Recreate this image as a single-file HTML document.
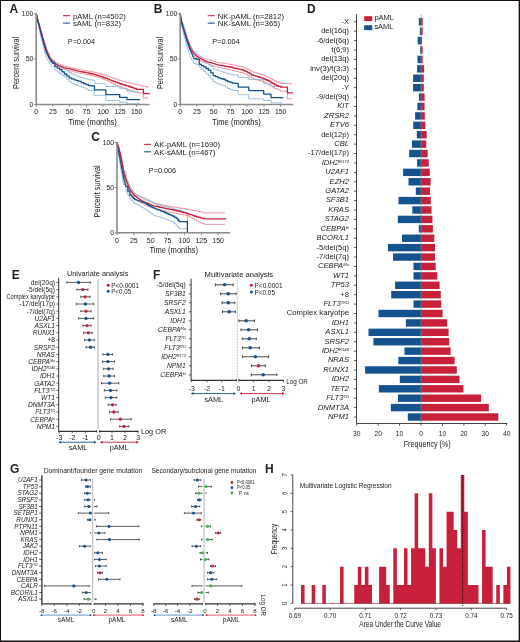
<!DOCTYPE html>
<html><head><meta charset="utf-8"><style>
html,body{margin:0;padding:0;background:#fff;}
svg{display:block;will-change:transform;}
text{font-family:"Liberation Sans",sans-serif;fill:#222;}
</style></head><body>
<svg width="520" height="642" viewBox="0 0 520 642">
<rect x="0" y="0" width="520" height="642" fill="#fff"/>
<text x="9.5" y="12.8" font-size="12" font-weight="bold" fill="#000">A</text>
<path d="M36.2,13.7L37.54,18.24L40.35,27.77L43.23,37.76L44.74,42.85L46.25,47.93L48.13,52.24L50,56.56L52.41,59.19L54.83,61.82L57.24,63L59.65,64.18L61.76,65L63.87,65.82L65.66,66.21L67.44,66.61L69.23,67L71.15,67.47L73.06,67.94L74.98,68.42L76.9,68.89L78.81,69.36L80.74,69.74L82.67,70.12H84.6V70.5H86.53V70.89H88.46V71.27H90.38V71.65H92.29V72.03H94.21V72.41H96.12V72.79H98.04V73.17H99.98V73.81H101.93V74.45H103.87V75.08H105.8V75.75H107.72V76.42H109.65V77.09H111.58V77.76H113.5V78.43H115.43V79.1H117.35V79.77H119.28V80.44H121.22V80.92H123.15V81.41H125.09V81.89H127.02V82.38H128.96V82.86H130.89V83.34H132.83V83.83H134.76V84.31H136.7V84.8H138.93V85.31H141.17V85.83H143.4V86.34H145.75V86.88H148.09V87.43" stroke="#e57d8c" stroke-width="0.8" fill="none" stroke-linejoin="round"/>
<path d="M36.2,13.7L37.54,19.6L40.35,30.5L43.23,41.39L44.74,46.62L46.25,51.84L48.13,56.01L50,60.19L52.41,62.73L54.83,65.27L57.24,66.45L59.65,67.64L61.76,68.45L63.87,69.27L65.66,69.66L67.44,70.06L69.23,70.45L71.15,70.96L73.06,71.47L74.98,71.98L76.9,72.48L78.81,72.99L80.74,73.41L82.67,73.83H84.6V74.25H86.53V74.66H88.46V75.08H90.38V75.52H92.29V75.95H94.21V76.39H96.12V76.82H98.04V77.26H99.98V78.02H101.93V78.77H103.87V79.53H105.8V80.44H107.72V81.35H109.65V82.25H111.58V83.16H113.5V84.07H115.43V84.98H117.35V85.89H119.28V86.79H121.22V87.48H123.15V88.17H125.09V88.85H127.02V89.54H128.96V90.22H130.89V90.91H132.83V91.6H134.76V92.28H136.7V92.97H138.93V93.03H141.17V93.09H143.4V93.15V98.14H145.75H148.09" stroke="#e57d8c" stroke-width="0.8" fill="none" stroke-linejoin="round"/>
<path d="M36.2,13.7L37.54,18.24L40.35,28.23L43.23,38.22L44.74,43.21L46.25,48.2L48.13,52.47L50,56.74L52.41,60.14H54.83V63.55H57.24V65.18H59.65V66.82H62V68H64.34V69.18H66.79V70.9H69.23V72.63H71.61V73.81H73.99V74.99H76.4V75.94H78.81V76.9H81.26V77.67H83.7V78.44H86.08V79.12H88.46V79.8H90.58V80.01H92.7V80.23H94.83V80.44V83.71H96.67H98.51H100.35H102.2H104.04H105.88V86.52H107.85H109.82H111.8H113.77H115.74H117.71H119.68V88.34H121.51H123.33H125.16H126.98V91.24H128.94H130.89H132.85H134.8H136.76H138.71" stroke="#86aed4" stroke-width="0.8" fill="none" stroke-linejoin="round"/>
<path d="M36.2,13.7L37.54,20.51L40.35,34.58L43.23,46.39L44.74,51.84L46.25,57.28L48.13,60.42L50,63.55L52.41,66.86H54.83V70.18H57.24V72.08H59.65V73.99H62V75.44H64.34V76.9H66.79V79.3H69.23V81.71H71.61V83.16H73.99V84.61H76.4V85.34H78.81V86.07H81.26V87.02H83.7V87.97H86.08V89.2H88.46V90.43H90.38V90.52H92.3V90.61H94.22V90.7V95.24H96.17H98.11H100.05H101.99H103.94H105.88V100.5H107.85H109.82H111.8H113.77H115.74H117.71H119.68V102.23H121.51H123.33H125.16H126.98V103.59H129.16H131.34H133.52H135.69H137.87H140.05" stroke="#86aed4" stroke-width="0.8" fill="none" stroke-linejoin="round"/>
<path d="M36.2,13.7L37.41,18.88L40.35,29.14L43.23,39.58L44.74,44.71L46.25,49.84L48.13,54.11L50,58.37L52.41,60.96L54.83,63.55L57.24,64.73L59.65,65.91L61.76,66.73L63.87,67.54L65.66,67.94L67.44,68.33L69.23,68.72L71.15,69.22L73.06,69.71L74.98,70.2L76.9,70.69L78.81,71.18L80.74,71.59L82.67,72.01H84.6V72.43H86.53V72.85H88.46V73.26H90.47V73.74H92.48V74.22H94.49V74.69H96.5V75.17H98.34V75.78H100.19V76.4H102.03V77.01H103.87V77.62H105.71V78.35H107.56V79.08H109.4V79.8H111.24V80.53H113.25V81.32H115.26V82.12H117.27V82.91H119.28V83.71H121.16V84.27H123.03V84.83H124.91V85.4H126.78V85.96H128.66V86.52H130.67V87.25H132.68V87.97H134.69V88.7H136.7V89.43H138.93H141.17H143.4V93.6H145.52H147.64H149.76" stroke="#c8203a" stroke-width="1.3" fill="none" stroke-linejoin="round"/>
<path d="M36.2,13.7L37.41,19.15L40.35,30.68L43.23,41.85L44.74,46.98L46.25,52.11L48.13,55.88L50,59.64L52.41,63H54.83V66.36H57.24V68.04H59.65V69.72H62V71.86H64.34V73.99H66.79V75.94H69.23V77.9H71.61V78.85H73.99V79.8H76.4V80.57H78.81V81.35H81.26V82.53H83.7V83.71H86.08V84.66H88.46V85.61H90.47V85.76H92.48V85.92H94.49V86.07V89.97H96.39H98.29H100.19H102.08H103.98H105.88V94.69H107.85H109.82H111.8H113.77H115.74H117.71H119.68V97.42H121.51H123.33H125.16H126.98V99.69H129.14H131.3H133.45H135.61H137.76H139.92" stroke="#15538f" stroke-width="1.3" fill="none" stroke-linejoin="round"/>
<line x1="36.2" y1="13.4" x2="36.2" y2="105.3" stroke="#8a8a8a" stroke-width="1.6"/>
<line x1="35.4" y1="104.5" x2="149.5" y2="104.5" stroke="#8a8a8a" stroke-width="1.6"/>
<line x1="34" y1="13.7" x2="36.2" y2="13.7" stroke="#8a8a8a" stroke-width="1"/>
<text x="33.2" y="16" font-size="7.3" text-anchor="end" textLength="11.33" lengthAdjust="spacingAndGlyphs">100</text>
<line x1="34" y1="59.1" x2="36.2" y2="59.1" stroke="#8a8a8a" stroke-width="1"/>
<text x="33.2" y="61.4" font-size="7.3" text-anchor="end" textLength="7.55" lengthAdjust="spacingAndGlyphs">50</text>
<line x1="34" y1="104.5" x2="36.2" y2="104.5" stroke="#8a8a8a" stroke-width="1"/>
<text x="33.2" y="106.8" font-size="7.3" text-anchor="end" textLength="3.78" lengthAdjust="spacingAndGlyphs">0</text>
<line x1="36.2" y1="104.5" x2="36.2" y2="106.7" stroke="#8a8a8a" stroke-width="1"/>
<text x="36.2" y="114.2" font-size="7.3" text-anchor="middle" textLength="3.86" lengthAdjust="spacingAndGlyphs">0</text>
<line x1="52.95" y1="104.5" x2="52.95" y2="106.7" stroke="#8a8a8a" stroke-width="1"/>
<text x="52.95" y="114.2" font-size="7.3" text-anchor="middle" textLength="7.71" lengthAdjust="spacingAndGlyphs">25</text>
<line x1="69.7" y1="104.5" x2="69.7" y2="106.7" stroke="#8a8a8a" stroke-width="1"/>
<text x="69.7" y="114.2" font-size="7.3" text-anchor="middle" textLength="7.71" lengthAdjust="spacingAndGlyphs">50</text>
<line x1="86.45" y1="104.5" x2="86.45" y2="106.7" stroke="#8a8a8a" stroke-width="1"/>
<text x="86.45" y="114.2" font-size="7.3" text-anchor="middle" textLength="7.71" lengthAdjust="spacingAndGlyphs">75</text>
<line x1="103.2" y1="104.5" x2="103.2" y2="106.7" stroke="#8a8a8a" stroke-width="1"/>
<text x="103.2" y="114.2" font-size="7.3" text-anchor="middle" textLength="11.57" lengthAdjust="spacingAndGlyphs">100</text>
<line x1="119.95" y1="104.5" x2="119.95" y2="106.7" stroke="#8a8a8a" stroke-width="1"/>
<text x="119.95" y="114.2" font-size="7.3" text-anchor="middle" textLength="11.57" lengthAdjust="spacingAndGlyphs">125</text>
<line x1="136.7" y1="104.5" x2="136.7" y2="106.7" stroke="#8a8a8a" stroke-width="1"/>
<text x="136.7" y="114.2" font-size="7.3" text-anchor="middle" textLength="11.57" lengthAdjust="spacingAndGlyphs">150</text>
<text x="92.7" y="125.1" font-size="9.4" text-anchor="middle" textLength="48.4" lengthAdjust="spacingAndGlyphs">Time (months)</text>
<text x="19.4" y="62.95" font-size="8.6" text-anchor="middle" textLength="52.1" lengthAdjust="spacingAndGlyphs" transform="rotate(-90 19.4 62.95)">Percent survival</text>
<line x1="63" y1="15.7" x2="70.2" y2="15.7" stroke="#c8203a" stroke-width="1"/>
<line x1="66.6" y1="14.8" x2="66.6" y2="16.6" stroke="#c8203a" stroke-width="0.5"/>
<line x1="63" y1="23.1" x2="70.2" y2="23.1" stroke="#15538f" stroke-width="1"/>
<line x1="66.6" y1="22.2" x2="66.6" y2="24" stroke="#15538f" stroke-width="0.5"/>
<text x="73" y="18.5" font-size="7.4" textLength="52.7" lengthAdjust="spacingAndGlyphs">pAML (n=4502)</text>
<text x="73" y="25.9" font-size="7.4" textLength="48" lengthAdjust="spacingAndGlyphs">sAML (n=832)</text>
<text x="67.8" y="44.4" font-size="7.3" textLength="27.3" lengthAdjust="spacingAndGlyphs">P=0.004</text>
<text x="153.8" y="13" font-size="12" font-weight="bold" fill="#000">B</text>
<path d="M180.2,13.7L181.41,19.39L184.29,28.96L187.23,37.79L190.18,45.81L192.09,48.85L194,51.9L196.41,53.8L198.83,55.7L201.24,56.83L203.65,57.96L206.03,58.86L208.41,59.76L210.82,60.43L213.23,61.11L215.61,61.78L217.99,62.46L220.4,62.9H222.81V63.35H225.26V63.71H227.7V64.06H230.11V64.56H232.53V65.05H234.46V65.44H236.39V65.84H238.32V66.23H240.25V66.62H242.17V67.02H244.02V67.75H245.86V68.48H247.78V69.59H249.7V70.7H251.62V71.81H253.53V72.36H255.44V72.9H257.35V73.45H259.26V74H261.17V74.55H263.08V75.1H265.02V76.03H266.96V76.95H268.91V77.88H270.83V78.96H272.75V80.04H274.67V81.11H276.61V81.86H278.56V82.6H280.5V83.35H282.8V83.44H285.1V83.53H287.4V83.62H289.75V83.93H292.09V84.25" stroke="#e57d8c" stroke-width="0.8" fill="none" stroke-linejoin="round"/>
<path d="M180.2,13.7L181.41,22.72L184.29,32.4L187.23,41.36L190.18,49.51L192.09,52.64L194,55.77L196.41,57.77L198.83,59.78L201.24,61.01L203.65,62.24L206.03,63.25L208.41,64.25L210.82,65.03L213.23,65.81L215.61,66.59L217.99,67.36L220.4,67.92H222.81V68.47H225.26V68.93H227.7V69.39H230.11V69.99H232.53V70.59H234.46V71.06H236.39V71.54H238.32V72.02H240.25V72.5H242.17V72.97H244.02V73.79H245.86V74.6H247.78V75.79H249.7V76.98H251.62V78.17H253.53V78.8H255.44V79.44H257.35V80.07H259.26V80.7H261.17V81.33H263.08V81.96H265.02V82.97H266.96V83.98H268.91V84.99H270.83V86.16H272.75V87.32H274.67V88.48H276.61V89.31H278.56V90.14H280.5V90.97H282.8V91.09H285.1V91.21H287.4V91.33V98.78H289.75H292.09" stroke="#e57d8c" stroke-width="0.8" fill="none" stroke-linejoin="round"/>
<path d="M180.2,13.7L181.41,20.06L184.29,27.32L187.23,37.31L190.18,45.48L192.09,48.7L194,51.93H196.41V54.56H198.83V57.19H201.24V59.37H203.65V61.55H206.03V62.96H208.41V64.37H210.82V66.55H213.23V68.72H215.61V69.72H217.99V70.72H220.4V71.4H222.81V72.08H225.26V72.86H227.7V73.63H230.11V74.31H232.53V74.99H234.43H236.32H238.22V77.44H240.33H242.43H244.53H246.64H248.74V79.62H250.88H253.01H255.14H257.28H259.41H261.55H263.68V83.71H265.51H267.33H269.16H270.99V86.52H272.94H274.89H276.85H278.8H280.76H282.71" stroke="#86aed4" stroke-width="0.8" fill="none" stroke-linejoin="round"/>
<path d="M180.2,13.7L181.41,23.69L184.29,36.4L187.23,47.3L190.18,56.38L192.09,59.92L194,63.46H196.41V65.14H198.83V66.82H201.24V69.22H203.65V71.63H206.03V73.81H208.41V75.99H210.82V78.85H213.23V81.71H215.61V82.89H217.99V84.07H220.4V84.84H222.81V85.61H225.26V87.07H227.7V88.52H230.11V89.47H232.53V90.43H234.43V90.52H236.32V90.61H238.22V90.7V94.69H240.33H242.43H244.53H246.64H248.74V98.78H250.88H253.01H255.14H257.28H259.41H261.55H263.68V100.5H265.51H267.33H269.16H270.99V102.77H272.83H274.67H276.51H278.36H280.2H282.04" stroke="#86aed4" stroke-width="0.8" fill="none" stroke-linejoin="round"/>
<path d="M180.2,13.7L181.41,21.05L184.29,30.68L187.23,39.58L190.18,47.66L192.09,50.75L194,53.83L196.41,55.79L198.83,57.74L201.24,58.92L203.65,60.1L206.03,61.05L208.41,62.01L210.82,62.73L213.23,63.46L215.61,64.18L217.99,64.91L220.4,65.41H222.81V65.91H225.26V66.32H227.7V66.73H230.11V67.27H232.53V67.82H234.46V68.25H236.39V68.69H238.32V69.12H240.25V69.56H242.17V70H244.02V70.77H245.86V71.54H247.78V72.69H249.7V73.84H251.62V74.99H253.53V75.58H255.44V76.17H257.35V76.76H259.26V77.35H261.17V77.94H263.08V78.53H265.02V79.5H266.96V80.47H268.91V81.44H270.83V82.56H272.75V83.68H274.67V84.8H276.61V85.58H278.56V86.37H280.5V87.16H282.8H285.1H287.4V92.79H289.3H291.2H293.09" stroke="#c8203a" stroke-width="1.3" fill="none" stroke-linejoin="round"/>
<path d="M180.2,13.7L181.41,21.87L184.29,32.13L187.23,41.85L190.18,49.93L192.09,54.33L194,58.74H196.95V59.28H199.29V64.37H201.47V65.59H203.65V66.82H206.03V68.5H208.41V70.18H210.82V72.86H213.23V75.53H215.61V76.72H217.99V77.9H220.4V78.58H222.81V79.26H225.26V80.48H227.7V81.71H230.11V82.44H232.53V83.16H235.37V83.43H238.22V83.71V87.16H240.85H243.48H246.11H248.74V90.61H251.23H253.72H256.21H258.7H261.19H263.68V94.06H266.12H268.55H270.99V97.6H273.46H275.94H278.42H280.9H283.38" stroke="#15538f" stroke-width="1.3" fill="none" stroke-linejoin="round"/>
<line x1="180.2" y1="13.4" x2="180.2" y2="105.3" stroke="#8a8a8a" stroke-width="1.6"/>
<line x1="179.4" y1="104.5" x2="293.3" y2="104.5" stroke="#8a8a8a" stroke-width="1.6"/>
<line x1="178" y1="13.7" x2="180.2" y2="13.7" stroke="#8a8a8a" stroke-width="1"/>
<text x="177.2" y="16" font-size="7.3" text-anchor="end" textLength="11.33" lengthAdjust="spacingAndGlyphs">100</text>
<line x1="178" y1="59.1" x2="180.2" y2="59.1" stroke="#8a8a8a" stroke-width="1"/>
<text x="177.2" y="61.4" font-size="7.3" text-anchor="end" textLength="7.55" lengthAdjust="spacingAndGlyphs">50</text>
<line x1="178" y1="104.5" x2="180.2" y2="104.5" stroke="#8a8a8a" stroke-width="1"/>
<text x="177.2" y="106.8" font-size="7.3" text-anchor="end" textLength="3.78" lengthAdjust="spacingAndGlyphs">0</text>
<line x1="180.2" y1="104.5" x2="180.2" y2="106.7" stroke="#8a8a8a" stroke-width="1"/>
<text x="180.2" y="114.2" font-size="7.3" text-anchor="middle" textLength="3.86" lengthAdjust="spacingAndGlyphs">0</text>
<line x1="196.95" y1="104.5" x2="196.95" y2="106.7" stroke="#8a8a8a" stroke-width="1"/>
<text x="196.95" y="114.2" font-size="7.3" text-anchor="middle" textLength="7.71" lengthAdjust="spacingAndGlyphs">25</text>
<line x1="213.7" y1="104.5" x2="213.7" y2="106.7" stroke="#8a8a8a" stroke-width="1"/>
<text x="213.7" y="114.2" font-size="7.3" text-anchor="middle" textLength="7.71" lengthAdjust="spacingAndGlyphs">50</text>
<line x1="230.45" y1="104.5" x2="230.45" y2="106.7" stroke="#8a8a8a" stroke-width="1"/>
<text x="230.45" y="114.2" font-size="7.3" text-anchor="middle" textLength="7.71" lengthAdjust="spacingAndGlyphs">75</text>
<line x1="247.2" y1="104.5" x2="247.2" y2="106.7" stroke="#8a8a8a" stroke-width="1"/>
<text x="247.2" y="114.2" font-size="7.3" text-anchor="middle" textLength="11.57" lengthAdjust="spacingAndGlyphs">100</text>
<line x1="263.95" y1="104.5" x2="263.95" y2="106.7" stroke="#8a8a8a" stroke-width="1"/>
<text x="263.95" y="114.2" font-size="7.3" text-anchor="middle" textLength="11.57" lengthAdjust="spacingAndGlyphs">125</text>
<line x1="280.7" y1="104.5" x2="280.7" y2="106.7" stroke="#8a8a8a" stroke-width="1"/>
<text x="280.7" y="114.2" font-size="7.3" text-anchor="middle" textLength="11.57" lengthAdjust="spacingAndGlyphs">150</text>
<text x="236.5" y="125.1" font-size="9.4" text-anchor="middle" textLength="48.4" lengthAdjust="spacingAndGlyphs">Time (months)</text>
<text x="163.5" y="62.95" font-size="8.6" text-anchor="middle" textLength="52.1" lengthAdjust="spacingAndGlyphs" transform="rotate(-90 163.5 62.95)">Percent survival</text>
<line x1="207.7" y1="15.7" x2="214.9" y2="15.7" stroke="#c8203a" stroke-width="1"/>
<line x1="211.3" y1="14.8" x2="211.3" y2="16.6" stroke="#c8203a" stroke-width="0.5"/>
<line x1="207.7" y1="23.1" x2="214.9" y2="23.1" stroke="#15538f" stroke-width="1"/>
<line x1="211.3" y1="22.2" x2="211.3" y2="24" stroke="#15538f" stroke-width="0.5"/>
<text x="217.7" y="18.5" font-size="7.4" textLength="66.3" lengthAdjust="spacingAndGlyphs">NK-pAML (n=2812)</text>
<text x="217.7" y="25.9" font-size="7.4" textLength="62.5" lengthAdjust="spacingAndGlyphs">NK-sAML (n=365)</text>
<text x="212.3" y="44.4" font-size="7.3" textLength="27.3" lengthAdjust="spacingAndGlyphs">P=0.004</text>
<text x="91.2" y="141.1" font-size="12" font-weight="bold" fill="#000">C</text>
<path d="M117,142.4L118.35,145.11L121.18,155.96L123.74,169.52L126.03,177.2L127.92,181.95L129.81,186.7L132.2,189.86L134.59,193.02L136.98,194.65L139.38,196.28L141.8,197.72L144.23,199.17L146.14,199.93L148.06,200.69L149.97,201.45L151.89,202.21L153.8,202.97L155.74,203.47H157.68V203.98H159.62V204.49H161.56V204.99H163.51V205.5H165.41V205.81H167.31V206.11H169.21V206.42H171.11V206.73H173.01V207.04H175.02V207.36H177.03V207.68H179.05V208H181.06V208.33H183.07V208.65H185.08V208.97H187.1V209.3H188.98V209.66H190.87V210.02H192.76V210.38H194.64V210.74H196.53V211.1H198.55V211.56H200.58V212.01H202.6V212.46H204.62V212.91H206.64H208.66H210.69H212.71H214.73H216.75H218.77H220.8H222.82H224.84" stroke="#e57d8c" stroke-width="0.8" fill="none" stroke-linejoin="round"/>
<path d="M117,142.4L118.35,146.92L121.18,159.58L123.74,174.94L126.03,182.45L127.92,187.28L129.81,192.12L132.2,195.28L134.59,198.45L136.98,200.08L139.38,201.7L141.8,203.15L144.23,204.6L146.14,205.39L148.06,206.19L149.97,206.98L151.89,207.78L153.8,208.57L155.74,209.04H157.68V209.51H159.62V209.98H161.56V210.45H163.51V210.92H165.41V211.32H167.31V211.72H169.21V212.12H171.11V212.51H173.01V212.91H175.02V213.3H177.03V213.69H179.05V214.07H181.06V214.46H183.07V214.85H185.08V215.24H187.1V215.62H188.98V216.71H190.87V217.79H192.76V218.88H194.64V219.96H196.53V221.05H198.55V221.88H200.58V222.72H202.6V223.56H204.62V224.39H206.64H208.66H210.69H212.71H214.73H216.75H218.77H220.8H222.82H224.84" stroke="#e57d8c" stroke-width="0.8" fill="none" stroke-linejoin="round"/>
<path d="M117,142.4L118.35,146.92L119.76,152.8L121.18,158.67L122.46,165L123.74,171.33H126.03V180.37H127.92V185.34H129.81V190.31H131.4V191.94H133V193.57H134.59V195.19H136.19V195.68H137.78V196.16H139.38V196.64H140.99V197.12H142.61V197.6H144.23V198.09H145.82V198.98H147.42V199.86H149.02V200.75H150.61V201.64H152.21V202.53H153.8V203.42H155.42V203.9H157.04V204.38H158.65V204.87H160.27V205.35H161.89V205.83H163.51V206.31H165.09V206.7H166.67V207.1H168.26V207.49H169.84V207.88H171.43V208.27H173.01V208.66H174.51V209.16H176.01V209.66H177.51V210.15H179.01V210.65H180.69V211.1H182.38V211.56H184.06V212.01H185.75V212.46H187.43V212.91V232.8" stroke="#86aed4" stroke-width="0.8" fill="none" stroke-linejoin="round"/>
<path d="M117,142.4L118.35,152.34L119.76,161.84L121.18,171.33L122.46,178.11L123.74,184.89H126.03V192.12H127.92V195.56H129.81V198.99H131.4V200.59H133V202.18H134.59V203.78H136.2V204.6H137.8V205.41H139.41V206.22H141.02V207.04H142.62V207.85H144.23V208.66H145.82V209.79H147.42V210.92H149.02V212.05H150.61V213.18H152.21V214.31H153.8V215.44H155.42V215.93H157.04V216.41H158.65V216.89H160.27V217.37H161.89V217.85H163.51V218.34H165.09V218.97H166.67V219.6H168.26V220.23H169.84V220.87H171.43V221.5H173.01V222.13H174.66V223.85H176.31V225.57H177.66V227.15H179.01V228.73H180.69H182.38H184.06H185.75H187.43" stroke="#86aed4" stroke-width="0.8" fill="none" stroke-linejoin="round"/>
<path d="M117,142.4L118.21,146.02L121.18,157.77L123.74,172.23L126.03,179.83L127.92,184.62L129.81,189.41L132.2,192.57L134.59,195.74L136.98,197.36L139.38,198.99L141.8,200.44L144.23,201.88L146.14,202.66L148.06,203.44L149.97,204.22L151.89,204.99L153.8,205.77L155.74,206.26H157.68V206.75H159.62V207.23H161.56V207.72H163.51V208.21H165.41V208.57H167.31V208.93H169.21V209.3H171.11V209.66H173.01V210.02H175.01V210.5H177.01V210.98H179.01V211.47H181.03V212.01H183.05V212.55H185.07V213.09H187.1V213.64H188.98V214.29H190.87V214.94H192.76V215.59H194.64V216.24H196.53V216.89H198.55V217.41H200.58V217.93H202.6V218.45H204.62V218.97H206.58H208.54H210.5H212.46H214.42H216.38H218.35H220.31H222.27H224.23H226.19" stroke="#c8203a" stroke-width="1.3" fill="none" stroke-linejoin="round"/>
<path d="M117,142.4L118.21,149.36L119.7,157.18L121.18,165L122.46,171.78L123.74,178.56L126.03,186.7H127.78V191.22H129.81V195.19H131.83V197.09H133.21V198.31H134.59V199.53H136.19V200.08H137.78V200.62H139.38V201.16H140.99V201.73H142.61V202.31H144.23V202.88H145.71V203.81H147.2V204.75H148.68V205.68H150.39V206.52H152.09V207.37H153.8V208.21H155.46V208.87H157.13V209.54H158.79V210.2H160.36V210.8H161.93V211.41H163.51V212.01H165.08V212.76H166.65V213.51H168.22V214.27H169.82V214.93H171.41V215.59H173.01V216.26H174.66V217.3H176.31V218.34H177.66V220.01H179.01V221.68H180.69H182.38H184.06H185.75H187.43V232.8" stroke="#15538f" stroke-width="1.3" fill="none" stroke-linejoin="round"/>
<line x1="117" y1="142.1" x2="117" y2="233.6" stroke="#8a8a8a" stroke-width="1.6"/>
<line x1="116.2" y1="232.8" x2="230.2" y2="232.8" stroke="#8a8a8a" stroke-width="1.6"/>
<line x1="114.8" y1="142.4" x2="117" y2="142.4" stroke="#8a8a8a" stroke-width="1"/>
<text x="114" y="144.7" font-size="7.3" text-anchor="end" textLength="11.33" lengthAdjust="spacingAndGlyphs">100</text>
<line x1="114.8" y1="187.6" x2="117" y2="187.6" stroke="#8a8a8a" stroke-width="1"/>
<text x="114" y="189.9" font-size="7.3" text-anchor="end" textLength="7.55" lengthAdjust="spacingAndGlyphs">50</text>
<line x1="114.8" y1="232.8" x2="117" y2="232.8" stroke="#8a8a8a" stroke-width="1"/>
<text x="114" y="235.1" font-size="7.3" text-anchor="end" textLength="3.78" lengthAdjust="spacingAndGlyphs">0</text>
<line x1="117" y1="232.8" x2="117" y2="235" stroke="#8a8a8a" stroke-width="1"/>
<text x="117" y="242.5" font-size="7.3" text-anchor="middle" textLength="3.86" lengthAdjust="spacingAndGlyphs">0</text>
<line x1="133.85" y1="232.8" x2="133.85" y2="235" stroke="#8a8a8a" stroke-width="1"/>
<text x="133.85" y="242.5" font-size="7.3" text-anchor="middle" textLength="7.71" lengthAdjust="spacingAndGlyphs">25</text>
<line x1="150.7" y1="232.8" x2="150.7" y2="235" stroke="#8a8a8a" stroke-width="1"/>
<text x="150.7" y="242.5" font-size="7.3" text-anchor="middle" textLength="7.71" lengthAdjust="spacingAndGlyphs">50</text>
<line x1="167.55" y1="232.8" x2="167.55" y2="235" stroke="#8a8a8a" stroke-width="1"/>
<text x="167.55" y="242.5" font-size="7.3" text-anchor="middle" textLength="7.71" lengthAdjust="spacingAndGlyphs">75</text>
<line x1="184.4" y1="232.8" x2="184.4" y2="235" stroke="#8a8a8a" stroke-width="1"/>
<text x="184.4" y="242.5" font-size="7.3" text-anchor="middle" textLength="11.57" lengthAdjust="spacingAndGlyphs">100</text>
<line x1="201.25" y1="232.8" x2="201.25" y2="235" stroke="#8a8a8a" stroke-width="1"/>
<text x="201.25" y="242.5" font-size="7.3" text-anchor="middle" textLength="11.57" lengthAdjust="spacingAndGlyphs">125</text>
<line x1="218.1" y1="232.8" x2="218.1" y2="235" stroke="#8a8a8a" stroke-width="1"/>
<text x="218.1" y="242.5" font-size="7.3" text-anchor="middle" textLength="11.57" lengthAdjust="spacingAndGlyphs">150</text>
<text x="173.7" y="253.4" font-size="9.4" text-anchor="middle" textLength="48.4" lengthAdjust="spacingAndGlyphs">Time (months)</text>
<text x="100.2" y="191.45" font-size="8.6" text-anchor="middle" textLength="52.1" lengthAdjust="spacingAndGlyphs" transform="rotate(-90 100.2 191.45)">Percent survival</text>
<line x1="144" y1="144.4" x2="151.2" y2="144.4" stroke="#c8203a" stroke-width="1"/>
<line x1="147.6" y1="143.5" x2="147.6" y2="145.3" stroke="#c8203a" stroke-width="0.5"/>
<line x1="144" y1="151.8" x2="151.2" y2="151.8" stroke="#15538f" stroke-width="1"/>
<line x1="147.6" y1="150.9" x2="147.6" y2="152.7" stroke="#15538f" stroke-width="0.5"/>
<text x="154" y="147.2" font-size="7.4" textLength="66.2" lengthAdjust="spacingAndGlyphs">AK-pAML (n=1690)</text>
<text x="154" y="154.6" font-size="7.4" textLength="61.5" lengthAdjust="spacingAndGlyphs">AK-sAML (n=467)</text>
<text x="148.8" y="173" font-size="7.3" textLength="27.3" lengthAdjust="spacingAndGlyphs">P=0.006</text>
<text x="306.9" y="12.8" font-size="12" font-weight="bold" fill="#000">D</text>
<rect x="364.2" y="16.2" width="8.1" height="4.9" fill="#c8203a"/>
<rect x="364.2" y="25.2" width="8.1" height="4.9" fill="#15538f"/>
<text x="374.4" y="20.2" font-size="7.2" textLength="19.6" lengthAdjust="spacingAndGlyphs">pAML</text>
<text x="374.4" y="29.2" font-size="7.2" textLength="19" lengthAdjust="spacingAndGlyphs">sAML</text>
<rect x="418.8" y="18.1" width="2.2" height="7.4" fill="#15538f"/>
<rect x="421" y="18.1" width="1.7" height="7.4" fill="#c8203a"/>
<line x1="353.9" y1="21.8" x2="356.5" y2="21.8" stroke="#333" stroke-width="0.8"/>
<text x="349" y="23.7" font-size="7.6" text-anchor="end">-X</text>
<rect x="419.8" y="27.51" width="1.2" height="7.4" fill="#15538f"/>
<rect x="421" y="27.51" width="1.7" height="7.4" fill="#c8203a"/>
<line x1="353.9" y1="31.21" x2="356.5" y2="31.21" stroke="#333" stroke-width="0.8"/>
<text x="349" y="33.11" font-size="7.6" text-anchor="end">del(16q)</text>
<rect x="417.7" y="36.92" width="3.3" height="7.4" fill="#15538f"/>
<rect x="421" y="36.92" width="1.1" height="7.4" fill="#c8203a"/>
<line x1="353.9" y1="40.62" x2="356.5" y2="40.62" stroke="#333" stroke-width="0.8"/>
<text x="349" y="42.52" font-size="7.6" text-anchor="end">-6/del(6q)</text>
<rect x="420.2" y="46.33" width="0.8" height="7.4" fill="#15538f"/>
<rect x="421" y="46.33" width="1.7" height="7.4" fill="#c8203a"/>
<line x1="353.9" y1="50.03" x2="356.5" y2="50.03" stroke="#333" stroke-width="0.8"/>
<text x="349" y="51.93" font-size="7.6" text-anchor="end">t(6;9)</text>
<rect x="417.5" y="55.74" width="3.5" height="7.4" fill="#15538f"/>
<rect x="421" y="55.74" width="1.7" height="7.4" fill="#c8203a"/>
<line x1="353.9" y1="59.44" x2="356.5" y2="59.44" stroke="#333" stroke-width="0.8"/>
<text x="349" y="61.34" font-size="7.6" text-anchor="end">del(13q)</text>
<rect x="417.1" y="65.15" width="3.9" height="7.4" fill="#15538f"/>
<rect x="421" y="65.15" width="3.2" height="7.4" fill="#c8203a"/>
<line x1="353.9" y1="68.85" x2="356.5" y2="68.85" stroke="#333" stroke-width="0.8"/>
<text x="349" y="70.75" font-size="7.6" text-anchor="end">inv(3)/t(3;3)</text>
<rect x="413.1" y="74.56" width="7.9" height="7.4" fill="#15538f"/>
<rect x="421" y="74.56" width="2.8" height="7.4" fill="#c8203a"/>
<line x1="353.9" y1="78.26" x2="356.5" y2="78.26" stroke="#333" stroke-width="0.8"/>
<text x="349" y="80.16" font-size="7.6" text-anchor="end">del(20q)</text>
<rect x="413.1" y="83.97" width="7.9" height="7.4" fill="#15538f"/>
<rect x="421" y="83.97" width="2.8" height="7.4" fill="#c8203a"/>
<line x1="353.9" y1="87.67" x2="356.5" y2="87.67" stroke="#333" stroke-width="0.8"/>
<text x="349" y="89.57" font-size="7.6" text-anchor="end">-Y</text>
<rect x="418.9" y="93.38" width="2.1" height="7.4" fill="#15538f"/>
<rect x="421" y="93.38" width="3.6" height="7.4" fill="#c8203a"/>
<line x1="353.9" y1="97.08" x2="356.5" y2="97.08" stroke="#333" stroke-width="0.8"/>
<text x="349" y="98.98" font-size="7.6" text-anchor="end">-9/del(9q)</text>
<rect x="417.4" y="102.79" width="3.6" height="7.4" fill="#15538f"/>
<rect x="421" y="102.79" width="3.6" height="7.4" fill="#c8203a"/>
<line x1="353.9" y1="106.49" x2="356.5" y2="106.49" stroke="#333" stroke-width="0.8"/>
<text x="349" y="108.39" font-size="7.6" text-anchor="end" font-style="italic">KIT</text>
<rect x="415.1" y="112.2" width="5.9" height="7.4" fill="#15538f"/>
<rect x="421" y="112.2" width="3.8" height="7.4" fill="#c8203a"/>
<line x1="353.9" y1="115.9" x2="356.5" y2="115.9" stroke="#333" stroke-width="0.8"/>
<text x="349" y="117.8" font-size="7.6" text-anchor="end" font-style="italic">ZRSR2</text>
<rect x="413.2" y="121.61" width="7.8" height="7.4" fill="#15538f"/>
<rect x="421" y="121.61" width="4.4" height="7.4" fill="#c8203a"/>
<line x1="353.9" y1="125.31" x2="356.5" y2="125.31" stroke="#333" stroke-width="0.8"/>
<text x="349" y="127.21" font-size="7.6" text-anchor="end" font-style="italic">ETV6</text>
<rect x="416.8" y="131.02" width="4.2" height="7.4" fill="#15538f"/>
<rect x="421" y="131.02" width="5.7" height="7.4" fill="#c8203a"/>
<line x1="353.9" y1="134.72" x2="356.5" y2="134.72" stroke="#333" stroke-width="0.8"/>
<text x="349" y="136.62" font-size="7.6" text-anchor="end">del(12p)</text>
<rect x="411.9" y="140.43" width="9.1" height="7.4" fill="#15538f"/>
<rect x="421" y="140.43" width="5.3" height="7.4" fill="#c8203a"/>
<line x1="353.9" y1="144.13" x2="356.5" y2="144.13" stroke="#333" stroke-width="0.8"/>
<text x="349" y="146.03" font-size="7.6" text-anchor="end" font-style="italic">CBL</text>
<rect x="409.2" y="149.84" width="11.8" height="7.4" fill="#15538f"/>
<rect x="421" y="149.84" width="6.7" height="7.4" fill="#c8203a"/>
<line x1="353.9" y1="153.54" x2="356.5" y2="153.54" stroke="#333" stroke-width="0.8"/>
<text x="349" y="155.44" font-size="7.6" text-anchor="end">-17/del(17p)</text>
<rect x="417.1" y="159.25" width="3.9" height="7.4" fill="#15538f"/>
<rect x="421" y="159.25" width="7.7" height="7.4" fill="#c8203a"/>
<line x1="353.9" y1="162.95" x2="356.5" y2="162.95" stroke="#333" stroke-width="0.8"/>
<text x="349" y="164.85" font-size="7.6" text-anchor="end" font-style="italic">IDH2<tspan font-size="4.2" dy="-2">R172</tspan></text>
<rect x="403.1" y="168.66" width="17.9" height="7.4" fill="#15538f"/>
<rect x="421" y="168.66" width="8.8" height="7.4" fill="#c8203a"/>
<line x1="353.9" y1="172.36" x2="356.5" y2="172.36" stroke="#333" stroke-width="0.8"/>
<text x="349" y="174.26" font-size="7.6" text-anchor="end" font-style="italic">U2AF1</text>
<rect x="408.5" y="178.07" width="12.5" height="7.4" fill="#15538f"/>
<rect x="421" y="178.07" width="9.6" height="7.4" fill="#c8203a"/>
<line x1="353.9" y1="181.77" x2="356.5" y2="181.77" stroke="#333" stroke-width="0.8"/>
<text x="349" y="183.67" font-size="7.6" text-anchor="end" font-style="italic">EZH2</text>
<rect x="415.8" y="187.48" width="5.2" height="7.4" fill="#15538f"/>
<rect x="421" y="187.48" width="9" height="7.4" fill="#c8203a"/>
<line x1="353.9" y1="191.18" x2="356.5" y2="191.18" stroke="#333" stroke-width="0.8"/>
<text x="349" y="193.08" font-size="7.6" text-anchor="end" font-style="italic">GATA2</text>
<rect x="398.5" y="196.89" width="22.5" height="7.4" fill="#15538f"/>
<rect x="421" y="196.89" width="9.8" height="7.4" fill="#c8203a"/>
<line x1="353.9" y1="200.59" x2="356.5" y2="200.59" stroke="#333" stroke-width="0.8"/>
<text x="349" y="202.49" font-size="7.6" text-anchor="end" font-style="italic">SF3B1</text>
<rect x="412.3" y="206.3" width="8.7" height="7.4" fill="#15538f"/>
<rect x="421" y="206.3" width="10.5" height="7.4" fill="#c8203a"/>
<line x1="353.9" y1="210" x2="356.5" y2="210" stroke="#333" stroke-width="0.8"/>
<text x="349" y="211.9" font-size="7.6" text-anchor="end" font-style="italic">KRAS</text>
<rect x="397.8" y="215.71" width="23.2" height="7.4" fill="#15538f"/>
<rect x="421" y="215.71" width="11.4" height="7.4" fill="#c8203a"/>
<line x1="353.9" y1="219.41" x2="356.5" y2="219.41" stroke="#333" stroke-width="0.8"/>
<text x="349" y="221.31" font-size="7.6" text-anchor="end" font-style="italic">STAG2</text>
<rect x="418.8" y="225.12" width="2.2" height="7.4" fill="#15538f"/>
<rect x="421" y="225.12" width="11.9" height="7.4" fill="#c8203a"/>
<line x1="353.9" y1="228.82" x2="356.5" y2="228.82" stroke="#333" stroke-width="0.8"/>
<text x="349" y="230.72" font-size="7.6" text-anchor="end" font-style="italic">CEBPA<tspan font-size="4.2" dy="-2">bi</tspan></text>
<rect x="402" y="234.53" width="19" height="7.4" fill="#15538f"/>
<rect x="421" y="234.53" width="13.3" height="7.4" fill="#c8203a"/>
<line x1="353.9" y1="238.23" x2="356.5" y2="238.23" stroke="#333" stroke-width="0.8"/>
<text x="349" y="240.13" font-size="7.6" text-anchor="end" font-style="italic">BCOR/L1</text>
<rect x="387.9" y="243.94" width="33.1" height="7.4" fill="#15538f"/>
<rect x="421" y="243.94" width="14" height="7.4" fill="#c8203a"/>
<line x1="353.9" y1="247.64" x2="356.5" y2="247.64" stroke="#333" stroke-width="0.8"/>
<text x="349" y="249.54" font-size="7.6" text-anchor="end">-5/del(5q)</text>
<rect x="393" y="253.35" width="28" height="7.4" fill="#15538f"/>
<rect x="421" y="253.35" width="14" height="7.4" fill="#c8203a"/>
<line x1="353.9" y1="257.05" x2="356.5" y2="257.05" stroke="#333" stroke-width="0.8"/>
<text x="349" y="258.95" font-size="7.6" text-anchor="end">-7/del(7q)</text>
<rect x="413.5" y="262.76" width="7.5" height="7.4" fill="#15538f"/>
<rect x="421" y="262.76" width="14.7" height="7.4" fill="#c8203a"/>
<line x1="353.9" y1="266.46" x2="356.5" y2="266.46" stroke="#333" stroke-width="0.8"/>
<text x="349" y="268.36" font-size="7.6" text-anchor="end" font-style="italic">CEBPA<tspan font-size="4.2" dy="-2">Mo</tspan></text>
<rect x="413.5" y="272.17" width="7.5" height="7.4" fill="#15538f"/>
<rect x="421" y="272.17" width="16.3" height="7.4" fill="#c8203a"/>
<line x1="353.9" y1="275.87" x2="356.5" y2="275.87" stroke="#333" stroke-width="0.8"/>
<text x="349" y="277.77" font-size="7.6" text-anchor="end" font-style="italic">WT1</text>
<rect x="395.1" y="281.58" width="25.9" height="7.4" fill="#15538f"/>
<rect x="421" y="281.58" width="18.6" height="7.4" fill="#c8203a"/>
<line x1="353.9" y1="285.28" x2="356.5" y2="285.28" stroke="#333" stroke-width="0.8"/>
<text x="349" y="287.18" font-size="7.6" text-anchor="end" font-style="italic">TP53</text>
<rect x="391.2" y="290.99" width="29.8" height="7.4" fill="#15538f"/>
<rect x="421" y="290.99" width="19.8" height="7.4" fill="#c8203a"/>
<line x1="353.9" y1="294.69" x2="356.5" y2="294.69" stroke="#333" stroke-width="0.8"/>
<text x="349" y="296.59" font-size="7.6" text-anchor="end">+8</text>
<rect x="413.5" y="300.4" width="7.5" height="7.4" fill="#15538f"/>
<rect x="421" y="300.4" width="20.2" height="7.4" fill="#c8203a"/>
<line x1="353.9" y1="304.1" x2="356.5" y2="304.1" stroke="#333" stroke-width="0.8"/>
<text x="349" y="306" font-size="7.6" text-anchor="end" font-style="italic">FLT3<tspan font-size="4.2" dy="-2">TKD</tspan></text>
<rect x="378.5" y="309.81" width="42.5" height="7.4" fill="#15538f"/>
<rect x="421" y="309.81" width="21.6" height="7.4" fill="#c8203a"/>
<line x1="353.9" y1="313.51" x2="356.5" y2="313.51" stroke="#333" stroke-width="0.8"/>
<text x="349" y="315.41" font-size="7.6" text-anchor="end" textLength="62.3" lengthAdjust="spacingAndGlyphs">Complex karyotpe</text>
<rect x="405.9" y="319.22" width="15.1" height="7.4" fill="#15538f"/>
<rect x="421" y="319.22" width="26.2" height="7.4" fill="#c8203a"/>
<line x1="353.9" y1="322.92" x2="356.5" y2="322.92" stroke="#333" stroke-width="0.8"/>
<text x="349" y="324.82" font-size="7.6" text-anchor="end" font-style="italic">IDH1</text>
<rect x="368.5" y="328.63" width="52.5" height="7.4" fill="#15538f"/>
<rect x="421" y="328.63" width="27.6" height="7.4" fill="#c8203a"/>
<line x1="353.9" y1="332.33" x2="356.5" y2="332.33" stroke="#333" stroke-width="0.8"/>
<text x="349" y="334.23" font-size="7.6" text-anchor="end" font-style="italic">ASXL1</text>
<rect x="373.4" y="338.04" width="47.6" height="7.4" fill="#15538f"/>
<rect x="421" y="338.04" width="28.2" height="7.4" fill="#c8203a"/>
<line x1="353.9" y1="341.74" x2="356.5" y2="341.74" stroke="#333" stroke-width="0.8"/>
<text x="349" y="343.64" font-size="7.6" text-anchor="end" font-style="italic">SRSF2</text>
<rect x="404.5" y="347.45" width="16.5" height="7.4" fill="#15538f"/>
<rect x="421" y="347.45" width="29.6" height="7.4" fill="#c8203a"/>
<line x1="353.9" y1="351.15" x2="356.5" y2="351.15" stroke="#333" stroke-width="0.8"/>
<text x="349" y="353.05" font-size="7.6" text-anchor="end" font-style="italic">IDH2<tspan font-size="4.2" dy="-2">R140</tspan></text>
<rect x="398.3" y="356.86" width="22.7" height="7.4" fill="#15538f"/>
<rect x="421" y="356.86" width="33.6" height="7.4" fill="#c8203a"/>
<line x1="353.9" y1="360.56" x2="356.5" y2="360.56" stroke="#333" stroke-width="0.8"/>
<text x="349" y="362.46" font-size="7.6" text-anchor="end" font-style="italic">NRAS</text>
<rect x="365.1" y="366.27" width="55.9" height="7.4" fill="#15538f"/>
<rect x="421" y="366.27" width="35.8" height="7.4" fill="#c8203a"/>
<line x1="353.9" y1="369.97" x2="356.5" y2="369.97" stroke="#333" stroke-width="0.8"/>
<text x="349" y="371.87" font-size="7.6" text-anchor="end" font-style="italic">RUNX1</text>
<rect x="399.8" y="375.68" width="21.2" height="7.4" fill="#15538f"/>
<rect x="421" y="375.68" width="38.5" height="7.4" fill="#c8203a"/>
<line x1="353.9" y1="379.38" x2="356.5" y2="379.38" stroke="#333" stroke-width="0.8"/>
<text x="349" y="381.28" font-size="7.6" text-anchor="end" font-style="italic">IDH2</text>
<rect x="378.9" y="385.09" width="42.1" height="7.4" fill="#15538f"/>
<rect x="421" y="385.09" width="42.5" height="7.4" fill="#c8203a"/>
<line x1="353.9" y1="388.79" x2="356.5" y2="388.79" stroke="#333" stroke-width="0.8"/>
<text x="349" y="390.69" font-size="7.6" text-anchor="end" font-style="italic">TET2</text>
<rect x="398" y="394.5" width="23" height="7.4" fill="#15538f"/>
<rect x="421" y="394.5" width="60.1" height="7.4" fill="#c8203a"/>
<line x1="353.9" y1="398.2" x2="356.5" y2="398.2" stroke="#333" stroke-width="0.8"/>
<text x="349" y="400.1" font-size="7.6" text-anchor="end" font-style="italic">FLT3<tspan font-size="4.2" dy="-2">TD</tspan></text>
<rect x="390.9" y="403.91" width="30.1" height="7.4" fill="#15538f"/>
<rect x="421" y="403.91" width="67.8" height="7.4" fill="#c8203a"/>
<line x1="353.9" y1="407.61" x2="356.5" y2="407.61" stroke="#333" stroke-width="0.8"/>
<text x="349" y="409.51" font-size="7.6" text-anchor="end" font-style="italic">DNMT3A</text>
<rect x="407.8" y="413.32" width="13.2" height="7.4" fill="#15538f"/>
<rect x="421" y="413.32" width="77.3" height="7.4" fill="#c8203a"/>
<line x1="353.9" y1="417.02" x2="356.5" y2="417.02" stroke="#333" stroke-width="0.8"/>
<text x="349" y="418.92" font-size="7.6" text-anchor="end" font-style="italic">NPM1</text>
<line x1="421" y1="14" x2="421" y2="423.5" stroke="#888" stroke-width="0.6"/>
<line x1="356.5" y1="14" x2="356.5" y2="423.5" stroke="#333" stroke-width="0.9"/>
<line x1="356.5" y1="423.5" x2="507.2" y2="423.5" stroke="#333" stroke-width="0.9"/>
<line x1="356.71" y1="423.5" x2="356.71" y2="425.8" stroke="#333" stroke-width="0.8"/>
<text x="356.71" y="435.9" font-size="7.6" text-anchor="middle" textLength="7.44" lengthAdjust="spacingAndGlyphs">30</text>
<line x1="378.14" y1="423.5" x2="378.14" y2="425.8" stroke="#333" stroke-width="0.8"/>
<text x="378.14" y="435.9" font-size="7.6" text-anchor="middle" textLength="7.44" lengthAdjust="spacingAndGlyphs">20</text>
<line x1="399.57" y1="423.5" x2="399.57" y2="425.8" stroke="#333" stroke-width="0.8"/>
<text x="399.57" y="435.9" font-size="7.6" text-anchor="middle" textLength="7.44" lengthAdjust="spacingAndGlyphs">10</text>
<line x1="421" y1="423.5" x2="421" y2="425.8" stroke="#333" stroke-width="0.8"/>
<text x="421" y="435.9" font-size="7.6" text-anchor="middle" textLength="3.72" lengthAdjust="spacingAndGlyphs">0</text>
<line x1="442.43" y1="423.5" x2="442.43" y2="425.8" stroke="#333" stroke-width="0.8"/>
<text x="442.43" y="435.9" font-size="7.6" text-anchor="middle" textLength="7.44" lengthAdjust="spacingAndGlyphs">10</text>
<line x1="463.86" y1="423.5" x2="463.86" y2="425.8" stroke="#333" stroke-width="0.8"/>
<text x="463.86" y="435.9" font-size="7.6" text-anchor="middle" textLength="7.44" lengthAdjust="spacingAndGlyphs">20</text>
<line x1="485.29" y1="423.5" x2="485.29" y2="425.8" stroke="#333" stroke-width="0.8"/>
<text x="485.29" y="435.9" font-size="7.6" text-anchor="middle" textLength="7.44" lengthAdjust="spacingAndGlyphs">30</text>
<line x1="506.72" y1="423.5" x2="506.72" y2="425.8" stroke="#333" stroke-width="0.8"/>
<text x="506.72" y="435.9" font-size="7.6" text-anchor="middle" textLength="7.44" lengthAdjust="spacingAndGlyphs">40</text>
<text x="427.2" y="446.6" font-size="8.7" text-anchor="middle" textLength="46.9" lengthAdjust="spacingAndGlyphs">Frequency (%)</text>
<text x="11.8" y="279" font-size="12" font-weight="bold" fill="#000">E</text>
<text x="66.9" y="276.3" font-size="7.5" textLength="61.5" lengthAdjust="spacingAndGlyphs">Univariate analysis</text>
<line x1="98.05" y1="279.5" x2="98.05" y2="428.7" stroke="#c8c8c8" stroke-width="1.5"/>
<line x1="56.5" y1="282.4" x2="58.7" y2="282.4" stroke="#333" stroke-width="0.8"/>
<text x="55" y="284.7" font-size="6.6" text-anchor="end">del(20q)</text>
<line x1="66.9" y1="282.4" x2="90.3" y2="282.4" stroke="#333" stroke-width="0.8"/>
<line x1="66.9" y1="281.2" x2="66.9" y2="283.6" stroke="#333" stroke-width="0.8"/>
<line x1="90.3" y1="281.2" x2="90.3" y2="283.6" stroke="#333" stroke-width="0.8"/>
<circle cx="78.5" cy="282.4" r="1.65" fill="#15538f"/>
<line x1="56.5" y1="289.6" x2="58.7" y2="289.6" stroke="#333" stroke-width="0.8"/>
<text x="55" y="291.9" font-size="6.6" text-anchor="end">-5/del(5q)</text>
<line x1="77" y1="289.6" x2="88" y2="289.6" stroke="#333" stroke-width="0.8"/>
<line x1="77" y1="288.4" x2="77" y2="290.8" stroke="#333" stroke-width="0.8"/>
<line x1="88" y1="288.4" x2="88" y2="290.8" stroke="#333" stroke-width="0.8"/>
<circle cx="82.8" cy="289.6" r="1.65" fill="#c8203a"/>
<line x1="56.5" y1="296.8" x2="58.7" y2="296.8" stroke="#333" stroke-width="0.8"/>
<text x="55" y="299.1" font-size="6.6" text-anchor="end" textLength="48.5" lengthAdjust="spacingAndGlyphs">Complex karyotype</text>
<line x1="80.8" y1="296.8" x2="90" y2="296.8" stroke="#333" stroke-width="0.8"/>
<line x1="80.8" y1="295.6" x2="80.8" y2="298" stroke="#333" stroke-width="0.8"/>
<line x1="90" y1="295.6" x2="90" y2="298" stroke="#333" stroke-width="0.8"/>
<circle cx="85.1" cy="296.8" r="1.65" fill="#c8203a"/>
<line x1="56.5" y1="304" x2="58.7" y2="304" stroke="#333" stroke-width="0.8"/>
<text x="55" y="306.3" font-size="6.6" text-anchor="end">-17/del(17p)</text>
<line x1="76.4" y1="304" x2="93.7" y2="304" stroke="#333" stroke-width="0.8"/>
<line x1="76.4" y1="302.8" x2="76.4" y2="305.2" stroke="#333" stroke-width="0.8"/>
<line x1="93.7" y1="302.8" x2="93.7" y2="305.2" stroke="#333" stroke-width="0.8"/>
<circle cx="85.4" cy="304" r="1.65" fill="#15538f"/>
<line x1="56.5" y1="311.2" x2="58.7" y2="311.2" stroke="#333" stroke-width="0.8"/>
<text x="55" y="313.5" font-size="6.6" text-anchor="end">-7/del(7q)</text>
<line x1="80.8" y1="311.2" x2="91.1" y2="311.2" stroke="#333" stroke-width="0.8"/>
<line x1="80.8" y1="310" x2="80.8" y2="312.4" stroke="#333" stroke-width="0.8"/>
<line x1="91.1" y1="310" x2="91.1" y2="312.4" stroke="#333" stroke-width="0.8"/>
<circle cx="86" cy="311.2" r="1.65" fill="#c8203a"/>
<line x1="56.5" y1="318.4" x2="58.7" y2="318.4" stroke="#333" stroke-width="0.8"/>
<text x="55" y="320.7" font-size="6.6" text-anchor="end" font-style="italic">U2AF1</text>
<line x1="78.7" y1="318.4" x2="93.7" y2="318.4" stroke="#333" stroke-width="0.8"/>
<line x1="78.7" y1="317.2" x2="78.7" y2="319.6" stroke="#333" stroke-width="0.8"/>
<line x1="93.7" y1="317.2" x2="93.7" y2="319.6" stroke="#333" stroke-width="0.8"/>
<circle cx="86" cy="318.4" r="1.65" fill="#15538f"/>
<line x1="56.5" y1="325.6" x2="58.7" y2="325.6" stroke="#333" stroke-width="0.8"/>
<text x="55" y="327.9" font-size="6.6" text-anchor="end" font-style="italic">ASXL1</text>
<line x1="82.8" y1="325.6" x2="91.1" y2="325.6" stroke="#333" stroke-width="0.8"/>
<line x1="82.8" y1="324.4" x2="82.8" y2="326.8" stroke="#333" stroke-width="0.8"/>
<line x1="91.1" y1="324.4" x2="91.1" y2="326.8" stroke="#333" stroke-width="0.8"/>
<circle cx="87.1" cy="325.6" r="1.65" fill="#c8203a"/>
<line x1="56.5" y1="332.8" x2="58.7" y2="332.8" stroke="#333" stroke-width="0.8"/>
<text x="55" y="335.1" font-size="6.6" text-anchor="end" font-style="italic">RUNX1</text>
<line x1="83.6" y1="332.8" x2="92.3" y2="332.8" stroke="#333" stroke-width="0.8"/>
<line x1="83.6" y1="331.6" x2="83.6" y2="334" stroke="#333" stroke-width="0.8"/>
<line x1="92.3" y1="331.6" x2="92.3" y2="334" stroke="#333" stroke-width="0.8"/>
<circle cx="88.3" cy="332.8" r="1.65" fill="#c8203a"/>
<line x1="56.5" y1="340" x2="58.7" y2="340" stroke="#333" stroke-width="0.8"/>
<text x="55" y="342.3" font-size="6.6" text-anchor="end">+8</text>
<line x1="84.5" y1="340" x2="94.3" y2="340" stroke="#333" stroke-width="0.8"/>
<line x1="84.5" y1="338.8" x2="84.5" y2="341.2" stroke="#333" stroke-width="0.8"/>
<line x1="94.3" y1="338.8" x2="94.3" y2="341.2" stroke="#333" stroke-width="0.8"/>
<circle cx="89.4" cy="340" r="1.65" fill="#15538f"/>
<line x1="56.5" y1="347.2" x2="58.7" y2="347.2" stroke="#333" stroke-width="0.8"/>
<text x="55" y="349.5" font-size="6.6" text-anchor="end" font-style="italic">SRSF2</text>
<line x1="86" y1="347.2" x2="94.3" y2="347.2" stroke="#333" stroke-width="0.8"/>
<line x1="86" y1="346" x2="86" y2="348.4" stroke="#333" stroke-width="0.8"/>
<line x1="94.3" y1="346" x2="94.3" y2="348.4" stroke="#333" stroke-width="0.8"/>
<circle cx="90.6" cy="347.2" r="1.65" fill="#15538f"/>
<line x1="56.5" y1="354.4" x2="58.7" y2="354.4" stroke="#333" stroke-width="0.8"/>
<text x="55" y="356.7" font-size="6.6" text-anchor="end" font-style="italic">NRAS</text>
<line x1="103" y1="354.4" x2="112.5" y2="354.4" stroke="#333" stroke-width="0.8"/>
<line x1="103" y1="353.2" x2="103" y2="355.6" stroke="#333" stroke-width="0.8"/>
<line x1="112.5" y1="353.2" x2="112.5" y2="355.6" stroke="#333" stroke-width="0.8"/>
<circle cx="107.9" cy="354.4" r="1.65" fill="#15538f"/>
<line x1="56.5" y1="361.6" x2="58.7" y2="361.6" stroke="#333" stroke-width="0.8"/>
<text x="55" y="363.9" font-size="6.6" text-anchor="end" font-style="italic">CEBPA<tspan font-size="3.6" dy="-2">Mo</tspan></text>
<line x1="102.4" y1="361.6" x2="114.5" y2="361.6" stroke="#333" stroke-width="0.8"/>
<line x1="102.4" y1="360.4" x2="102.4" y2="362.8" stroke="#333" stroke-width="0.8"/>
<line x1="114.5" y1="360.4" x2="114.5" y2="362.8" stroke="#333" stroke-width="0.8"/>
<circle cx="107.9" cy="361.6" r="1.65" fill="#15538f"/>
<line x1="56.5" y1="368.8" x2="58.7" y2="368.8" stroke="#333" stroke-width="0.8"/>
<text x="55" y="371.1" font-size="6.6" text-anchor="end" font-style="italic">IDH2<tspan font-size="3.6" dy="-2">R140</tspan></text>
<line x1="103.3" y1="368.8" x2="113.1" y2="368.8" stroke="#333" stroke-width="0.8"/>
<line x1="103.3" y1="367.6" x2="103.3" y2="370" stroke="#333" stroke-width="0.8"/>
<line x1="113.1" y1="367.6" x2="113.1" y2="370" stroke="#333" stroke-width="0.8"/>
<circle cx="108.5" cy="368.8" r="1.65" fill="#15538f"/>
<line x1="56.5" y1="376" x2="58.7" y2="376" stroke="#333" stroke-width="0.8"/>
<text x="55" y="378.3" font-size="6.6" text-anchor="end" font-style="italic">IDH1</text>
<line x1="103.8" y1="376" x2="114.5" y2="376" stroke="#333" stroke-width="0.8"/>
<line x1="103.8" y1="374.8" x2="103.8" y2="377.2" stroke="#333" stroke-width="0.8"/>
<line x1="114.5" y1="374.8" x2="114.5" y2="377.2" stroke="#333" stroke-width="0.8"/>
<circle cx="109" cy="376" r="1.65" fill="#15538f"/>
<line x1="56.5" y1="383.2" x2="58.7" y2="383.2" stroke="#333" stroke-width="0.8"/>
<text x="55" y="385.5" font-size="6.6" text-anchor="end" font-style="italic">GATA2</text>
<line x1="101.5" y1="383.2" x2="118.8" y2="383.2" stroke="#333" stroke-width="0.8"/>
<line x1="101.5" y1="382" x2="101.5" y2="384.4" stroke="#333" stroke-width="0.8"/>
<line x1="118.8" y1="382" x2="118.8" y2="384.4" stroke="#333" stroke-width="0.8"/>
<circle cx="109.6" cy="383.2" r="1.65" fill="#15538f"/>
<line x1="56.5" y1="390.4" x2="58.7" y2="390.4" stroke="#333" stroke-width="0.8"/>
<text x="55" y="392.7" font-size="6.6" text-anchor="end" font-style="italic">FLT3<tspan font-size="3.6" dy="-2">ITD</tspan></text>
<line x1="104.4" y1="390.4" x2="116.8" y2="390.4" stroke="#333" stroke-width="0.8"/>
<line x1="104.4" y1="389.2" x2="104.4" y2="391.6" stroke="#333" stroke-width="0.8"/>
<line x1="116.8" y1="389.2" x2="116.8" y2="391.6" stroke="#333" stroke-width="0.8"/>
<circle cx="110.5" cy="390.4" r="1.65" fill="#15538f"/>
<line x1="56.5" y1="397.6" x2="58.7" y2="397.6" stroke="#333" stroke-width="0.8"/>
<text x="55" y="399.9" font-size="6.6" text-anchor="end" font-style="italic">WT1</text>
<line x1="105.3" y1="397.6" x2="116.8" y2="397.6" stroke="#333" stroke-width="0.8"/>
<line x1="105.3" y1="396.4" x2="105.3" y2="398.8" stroke="#333" stroke-width="0.8"/>
<line x1="116.8" y1="396.4" x2="116.8" y2="398.8" stroke="#333" stroke-width="0.8"/>
<circle cx="111" cy="397.6" r="1.65" fill="#15538f"/>
<line x1="56.5" y1="404.8" x2="58.7" y2="404.8" stroke="#333" stroke-width="0.8"/>
<text x="55" y="407.1" font-size="6.6" text-anchor="end" font-style="italic">DNMT3A</text>
<line x1="108.2" y1="404.8" x2="116.2" y2="404.8" stroke="#333" stroke-width="0.8"/>
<line x1="108.2" y1="403.6" x2="108.2" y2="406" stroke="#333" stroke-width="0.8"/>
<line x1="116.2" y1="403.6" x2="116.2" y2="406" stroke="#333" stroke-width="0.8"/>
<circle cx="112.5" cy="404.8" r="1.65" fill="#c8203a"/>
<line x1="56.5" y1="412" x2="58.7" y2="412" stroke="#333" stroke-width="0.8"/>
<text x="55" y="414.3" font-size="6.6" text-anchor="end" font-style="italic">FLT3<tspan font-size="3.6" dy="-2">TD</tspan></text>
<line x1="109.6" y1="412" x2="118.3" y2="412" stroke="#333" stroke-width="0.8"/>
<line x1="109.6" y1="410.8" x2="109.6" y2="413.2" stroke="#333" stroke-width="0.8"/>
<line x1="118.3" y1="410.8" x2="118.3" y2="413.2" stroke="#333" stroke-width="0.8"/>
<circle cx="113.9" cy="412" r="1.65" fill="#c8203a"/>
<line x1="56.5" y1="419.2" x2="58.7" y2="419.2" stroke="#333" stroke-width="0.8"/>
<text x="55" y="421.5" font-size="6.6" text-anchor="end" font-style="italic">CEBPA<tspan font-size="3.6" dy="-2">bi</tspan></text>
<line x1="110.5" y1="419.2" x2="131.2" y2="419.2" stroke="#333" stroke-width="0.8"/>
<line x1="110.5" y1="418" x2="110.5" y2="420.4" stroke="#333" stroke-width="0.8"/>
<line x1="131.2" y1="418" x2="131.2" y2="420.4" stroke="#333" stroke-width="0.8"/>
<circle cx="120.3" cy="419.2" r="1.65" fill="#c8203a"/>
<line x1="56.5" y1="426.4" x2="58.7" y2="426.4" stroke="#333" stroke-width="0.8"/>
<text x="55" y="428.7" font-size="6.6" text-anchor="end" font-style="italic">NPM1</text>
<line x1="119.7" y1="426.4" x2="128.9" y2="426.4" stroke="#333" stroke-width="0.8"/>
<line x1="119.7" y1="425.2" x2="119.7" y2="427.6" stroke="#333" stroke-width="0.8"/>
<line x1="128.9" y1="425.2" x2="128.9" y2="427.6" stroke="#333" stroke-width="0.8"/>
<circle cx="124" cy="426.4" r="1.65" fill="#c8203a"/>
<line x1="58.7" y1="277.7" x2="58.7" y2="431.3" stroke="#333" stroke-width="1"/>
<line x1="58.2" y1="431.3" x2="96.9" y2="431.3" stroke="#333" stroke-width="1.2"/>
<line x1="99.2" y1="431.3" x2="138.6" y2="431.3" stroke="#333" stroke-width="1.2"/>
<path d="M95,431.3 l2.1,-1.4 v2.8 z M101.1,431.3 l-2.1,-1.4 v2.8 z" fill="#333"/>
<line x1="59.2" y1="431.3" x2="59.2" y2="433.3" stroke="#333" stroke-width="0.8"/>
<text x="59.2" y="439.5" font-size="7" text-anchor="middle">-3</text>
<line x1="72.3" y1="431.3" x2="72.3" y2="433.3" stroke="#333" stroke-width="0.8"/>
<text x="72.3" y="439.5" font-size="7" text-anchor="middle">-2</text>
<line x1="85.4" y1="431.3" x2="85.4" y2="433.3" stroke="#333" stroke-width="0.8"/>
<text x="85.4" y="439.5" font-size="7" text-anchor="middle">-1</text>
<text x="98.8" y="439.5" font-size="7" text-anchor="middle">0</text>
<line x1="112" y1="431.3" x2="112" y2="433.3" stroke="#333" stroke-width="0.8"/>
<text x="112" y="439.5" font-size="7" text-anchor="middle">1</text>
<line x1="124.9" y1="431.3" x2="124.9" y2="433.3" stroke="#333" stroke-width="0.8"/>
<text x="124.9" y="439.5" font-size="7" text-anchor="middle">2</text>
<line x1="138.1" y1="431.3" x2="138.1" y2="433.3" stroke="#333" stroke-width="0.8"/>
<text x="138.1" y="439.5" font-size="7" text-anchor="middle">3</text>
<text x="141" y="434.3" font-size="7.3">Log OR</text>
<line x1="59.5" y1="442.2" x2="95.5" y2="442.2" stroke="#15538f" stroke-width="0.9"/>
<path d="M58.5,442.2 l2.6,-1.5 v3z M96.5,442.2 l-2.6,-1.5 v3z" fill="#15538f"/>
<line x1="101" y1="442.2" x2="137.8" y2="442.2" stroke="#c8203a" stroke-width="0.9"/>
<path d="M100,442.2 l2.6,-1.5 v3z M138.8,442.2 l-2.6,-1.5 v3z" fill="#c8203a"/>
<text x="78" y="450.3" font-size="7.3" text-anchor="middle">sAML</text>
<text x="119.2" y="450.3" font-size="7.3" text-anchor="middle">pAML</text>
<circle cx="108.2" cy="285.2" r="1.5" fill="#c8203a"/>
<circle cx="108.2" cy="291.2" r="1.5" fill="#15538f"/>
<text x="111.2" y="287.8" font-size="6.5" textLength="27.8" lengthAdjust="spacingAndGlyphs">P&lt;0.0001</text>
<text x="111.2" y="293.8" font-size="6.5" textLength="20" lengthAdjust="spacingAndGlyphs">P&lt;0.05</text>
<text x="152.9" y="278.9" font-size="12" font-weight="bold" fill="#000">F</text>
<text x="204.6" y="276.6" font-size="7.5" textLength="68.4" lengthAdjust="spacingAndGlyphs">Multivariate analysis</text>
<line x1="237.35" y1="280" x2="237.35" y2="377.6" stroke="#777" stroke-width="0.6" stroke-dasharray="0.8,0.8"/>
<line x1="188.9" y1="284.8" x2="191.1" y2="284.8" stroke="#333" stroke-width="0.8"/>
<text x="185.8" y="287.2" font-size="6.8" text-anchor="end">-5/del(5q)</text>
<line x1="215.4" y1="284.8" x2="233.2" y2="284.8" stroke="#333" stroke-width="0.9"/>
<line x1="215.4" y1="283.4" x2="215.4" y2="286.2" stroke="#333" stroke-width="0.9"/>
<line x1="233.2" y1="283.4" x2="233.2" y2="286.2" stroke="#333" stroke-width="0.9"/>
<circle cx="224.6" cy="284.8" r="1.8" fill="#15538f"/>
<line x1="188.9" y1="293.8" x2="191.1" y2="293.8" stroke="#333" stroke-width="0.8"/>
<text x="185.8" y="296.2" font-size="6.8" text-anchor="end" font-style="italic">SF3B1</text>
<line x1="220.6" y1="293.8" x2="236" y2="293.8" stroke="#333" stroke-width="0.9"/>
<line x1="220.6" y1="292.4" x2="220.6" y2="295.2" stroke="#333" stroke-width="0.9"/>
<line x1="236" y1="292.4" x2="236" y2="295.2" stroke="#333" stroke-width="0.9"/>
<circle cx="228.3" cy="293.8" r="1.8" fill="#15538f"/>
<line x1="188.9" y1="302.8" x2="191.1" y2="302.8" stroke="#333" stroke-width="0.8"/>
<text x="185.8" y="305.2" font-size="6.8" text-anchor="end" font-style="italic">SRSF2</text>
<line x1="222.2" y1="302.8" x2="234.8" y2="302.8" stroke="#333" stroke-width="0.9"/>
<line x1="222.2" y1="301.4" x2="222.2" y2="304.2" stroke="#333" stroke-width="0.9"/>
<line x1="234.8" y1="301.4" x2="234.8" y2="304.2" stroke="#333" stroke-width="0.9"/>
<circle cx="228.3" cy="302.8" r="1.8" fill="#15538f"/>
<line x1="188.9" y1="311.8" x2="191.1" y2="311.8" stroke="#333" stroke-width="0.8"/>
<text x="185.8" y="314.2" font-size="6.8" text-anchor="end" font-style="italic">ASXL1</text>
<line x1="222.5" y1="311.8" x2="235.4" y2="311.8" stroke="#333" stroke-width="0.9"/>
<line x1="222.5" y1="310.4" x2="222.5" y2="313.2" stroke="#333" stroke-width="0.9"/>
<line x1="235.4" y1="310.4" x2="235.4" y2="313.2" stroke="#333" stroke-width="0.9"/>
<circle cx="229.2" cy="311.8" r="1.8" fill="#15538f"/>
<line x1="188.9" y1="320.8" x2="191.1" y2="320.8" stroke="#333" stroke-width="0.8"/>
<text x="185.8" y="323.2" font-size="6.8" text-anchor="end" font-style="italic">IDH1</text>
<line x1="239" y1="320.8" x2="254.5" y2="320.8" stroke="#333" stroke-width="0.9"/>
<line x1="239" y1="319.4" x2="239" y2="322.2" stroke="#333" stroke-width="0.9"/>
<line x1="254.5" y1="319.4" x2="254.5" y2="322.2" stroke="#333" stroke-width="0.9"/>
<circle cx="246.2" cy="320.8" r="1.8" fill="#15538f"/>
<line x1="188.9" y1="329.8" x2="191.1" y2="329.8" stroke="#333" stroke-width="0.8"/>
<text x="185.8" y="332.2" font-size="6.8" text-anchor="end" font-style="italic">CEBPA<tspan font-size="3.8" dy="-2">Mo</tspan></text>
<line x1="241" y1="329.8" x2="257.5" y2="329.8" stroke="#333" stroke-width="0.9"/>
<line x1="241" y1="328.4" x2="241" y2="331.2" stroke="#333" stroke-width="0.9"/>
<line x1="257.5" y1="328.4" x2="257.5" y2="331.2" stroke="#333" stroke-width="0.9"/>
<circle cx="248.6" cy="329.8" r="1.8" fill="#15538f"/>
<line x1="188.9" y1="338.8" x2="191.1" y2="338.8" stroke="#333" stroke-width="0.8"/>
<text x="185.8" y="341.2" font-size="6.8" text-anchor="end" font-style="italic">FLT3<tspan font-size="3.8" dy="-2">TD</tspan></text>
<line x1="242.2" y1="338.8" x2="256.3" y2="338.8" stroke="#333" stroke-width="0.9"/>
<line x1="242.2" y1="337.4" x2="242.2" y2="340.2" stroke="#333" stroke-width="0.9"/>
<line x1="256.3" y1="337.4" x2="256.3" y2="340.2" stroke="#333" stroke-width="0.9"/>
<circle cx="249.2" cy="338.8" r="1.8" fill="#15538f"/>
<line x1="188.9" y1="347.8" x2="191.1" y2="347.8" stroke="#333" stroke-width="0.8"/>
<text x="185.8" y="350.2" font-size="6.8" text-anchor="end" font-style="italic">FLT3<tspan font-size="3.8" dy="-2">ITD</tspan></text>
<line x1="242.5" y1="347.8" x2="259.4" y2="347.8" stroke="#333" stroke-width="0.9"/>
<line x1="242.5" y1="346.4" x2="242.5" y2="349.2" stroke="#333" stroke-width="0.9"/>
<line x1="259.4" y1="346.4" x2="259.4" y2="349.2" stroke="#333" stroke-width="0.9"/>
<circle cx="250.2" cy="347.8" r="1.8" fill="#15538f"/>
<line x1="188.9" y1="356.8" x2="191.1" y2="356.8" stroke="#333" stroke-width="0.8"/>
<text x="185.8" y="359.2" font-size="6.8" text-anchor="end" font-style="italic">IDH2<tspan font-size="3.8" dy="-2">R172</tspan></text>
<line x1="242.5" y1="356.8" x2="268.6" y2="356.8" stroke="#333" stroke-width="0.9"/>
<line x1="242.5" y1="355.4" x2="242.5" y2="358.2" stroke="#333" stroke-width="0.9"/>
<line x1="268.6" y1="355.4" x2="268.6" y2="358.2" stroke="#333" stroke-width="0.9"/>
<circle cx="255.4" cy="356.8" r="1.8" fill="#15538f"/>
<line x1="188.9" y1="365.8" x2="191.1" y2="365.8" stroke="#333" stroke-width="0.8"/>
<text x="185.8" y="368.2" font-size="6.8" text-anchor="end" font-style="italic">NPM1</text>
<line x1="251.5" y1="365.8" x2="265.3" y2="365.8" stroke="#333" stroke-width="0.9"/>
<line x1="251.5" y1="364.4" x2="251.5" y2="367.2" stroke="#333" stroke-width="0.9"/>
<line x1="265.3" y1="364.4" x2="265.3" y2="367.2" stroke="#333" stroke-width="0.9"/>
<circle cx="258.5" cy="365.8" r="1.8" fill="#c8203a"/>
<line x1="188.9" y1="374.8" x2="191.1" y2="374.8" stroke="#333" stroke-width="0.8"/>
<text x="185.8" y="377.2" font-size="6.8" text-anchor="end" font-style="italic">CEBPA<tspan font-size="3.8" dy="-2">bi</tspan></text>
<line x1="251.3" y1="374.8" x2="276.8" y2="374.8" stroke="#333" stroke-width="0.9"/>
<line x1="251.3" y1="373.4" x2="251.3" y2="376.2" stroke="#333" stroke-width="0.9"/>
<line x1="276.8" y1="373.4" x2="276.8" y2="376.2" stroke="#333" stroke-width="0.9"/>
<circle cx="263.2" cy="374.8" r="1.8" fill="#15538f"/>
<line x1="191.1" y1="278.8" x2="191.1" y2="380.3" stroke="#333" stroke-width="1"/>
<line x1="190.6" y1="380.3" x2="236.6" y2="380.3" stroke="#333" stroke-width="1.2"/>
<line x1="238.6" y1="380.3" x2="283.8" y2="380.3" stroke="#333" stroke-width="1.2"/>
<path d="M234.8,380.3 l2.1,-1.4 v2.8 z M240.4,380.3 l-2.1,-1.4 v2.8 z" fill="#333"/>
<line x1="191.7" y1="380.2" x2="191.7" y2="382.3" stroke="#333" stroke-width="0.8"/>
<text x="191.7" y="390.9" font-size="7" text-anchor="middle">-3</text>
<line x1="207" y1="380.2" x2="207" y2="382.3" stroke="#333" stroke-width="0.8"/>
<text x="207" y="390.9" font-size="7" text-anchor="middle">-2</text>
<line x1="221.8" y1="380.2" x2="221.8" y2="382.3" stroke="#333" stroke-width="0.8"/>
<text x="221.8" y="390.9" font-size="7" text-anchor="middle">-1</text>
<text x="238.5" y="390.9" font-size="7" text-anchor="middle">0</text>
<line x1="253.7" y1="380.2" x2="253.7" y2="382.3" stroke="#333" stroke-width="0.8"/>
<text x="253.7" y="390.9" font-size="7" text-anchor="middle">1</text>
<line x1="269" y1="380.2" x2="269" y2="382.3" stroke="#333" stroke-width="0.8"/>
<text x="269" y="390.9" font-size="7" text-anchor="middle">2</text>
<line x1="283.5" y1="380.2" x2="283.5" y2="382.3" stroke="#333" stroke-width="0.8"/>
<text x="283.5" y="390.9" font-size="7" text-anchor="middle">3</text>
<text x="286.2" y="383.9" font-size="7.5" textLength="21.7" lengthAdjust="spacingAndGlyphs">Log OR</text>
<line x1="191.8" y1="393.6" x2="235" y2="393.6" stroke="#15538f" stroke-width="0.9"/>
<path d="M190.8,393.6 l2.6,-1.5 v3z M236,393.6 l-2.6,-1.5 v3z" fill="#15538f"/>
<line x1="240.3" y1="393.6" x2="283.7" y2="393.6" stroke="#c8203a" stroke-width="0.9"/>
<path d="M239.3,393.6 l2.6,-1.5 v3z M284.7,393.6 l-2.6,-1.5 v3z" fill="#c8203a"/>
<text x="213.8" y="402.2" font-size="7.3" text-anchor="middle">sAML</text>
<text x="261" y="402.2" font-size="7.3" text-anchor="middle">pAML</text>
<circle cx="251.4" cy="285.2" r="1.5" fill="#c8203a"/>
<circle cx="251.4" cy="291.9" r="1.5" fill="#15538f"/>
<text x="254.5" y="287.8" font-size="6.6" textLength="28" lengthAdjust="spacingAndGlyphs">P&lt;0.0001</text>
<text x="254.5" y="294.5" font-size="6.6" textLength="20.5" lengthAdjust="spacingAndGlyphs">P&lt;0.05</text>
<text x="10" y="472.6" font-size="12" font-weight="bold" fill="#000">G</text>
<text x="43.7" y="473" font-size="6.8" textLength="98.5" lengthAdjust="spacingAndGlyphs">Dominant/founder gene mutation</text>
<text x="151.4" y="473" font-size="6.8" textLength="104.9" lengthAdjust="spacingAndGlyphs">Secondary/subclonal gene mutation</text>
<line x1="39.2" y1="480" x2="41.9" y2="480" stroke="#333" stroke-width="0.8"/>
<text x="37.7" y="482.2" font-size="6.3" text-anchor="end" font-style="italic">U2AF1</text>
<line x1="39.2" y1="486.62" x2="41.9" y2="486.62" stroke="#333" stroke-width="0.8"/>
<text x="37.7" y="488.82" font-size="6.3" text-anchor="end" font-style="italic">TP53</text>
<line x1="39.2" y1="493.24" x2="41.9" y2="493.24" stroke="#333" stroke-width="0.8"/>
<text x="37.7" y="495.44" font-size="6.3" text-anchor="end" font-style="italic">STAG2</text>
<line x1="39.2" y1="499.86" x2="41.9" y2="499.86" stroke="#333" stroke-width="0.8"/>
<text x="37.7" y="502.06" font-size="6.3" text-anchor="end" font-style="italic">SRSF2</text>
<line x1="39.2" y1="506.48" x2="41.9" y2="506.48" stroke="#333" stroke-width="0.8"/>
<text x="37.7" y="508.68" font-size="6.3" text-anchor="end" font-style="italic">SF3B1</text>
<line x1="39.2" y1="513.1" x2="41.9" y2="513.1" stroke="#333" stroke-width="0.8"/>
<text x="37.7" y="515.3" font-size="6.3" text-anchor="end" font-style="italic">SETBP1</text>
<line x1="39.2" y1="519.72" x2="41.9" y2="519.72" stroke="#333" stroke-width="0.8"/>
<text x="37.7" y="521.92" font-size="6.3" text-anchor="end" font-style="italic">RUNX1</text>
<line x1="39.2" y1="526.34" x2="41.9" y2="526.34" stroke="#333" stroke-width="0.8"/>
<text x="37.7" y="528.54" font-size="6.3" text-anchor="end" font-style="italic">PTPN11</text>
<line x1="39.2" y1="532.96" x2="41.9" y2="532.96" stroke="#333" stroke-width="0.8"/>
<text x="37.7" y="535.16" font-size="6.3" text-anchor="end" font-style="italic">NPM1</text>
<line x1="39.2" y1="539.58" x2="41.9" y2="539.58" stroke="#333" stroke-width="0.8"/>
<text x="37.7" y="541.78" font-size="6.3" text-anchor="end" font-style="italic">KRAS</text>
<line x1="39.2" y1="546.2" x2="41.9" y2="546.2" stroke="#333" stroke-width="0.8"/>
<text x="37.7" y="548.4" font-size="6.3" text-anchor="end" font-style="italic">JAK2</text>
<line x1="39.2" y1="552.82" x2="41.9" y2="552.82" stroke="#333" stroke-width="0.8"/>
<text x="37.7" y="555.02" font-size="6.3" text-anchor="end" font-style="italic">IDH2</text>
<line x1="39.2" y1="559.44" x2="41.9" y2="559.44" stroke="#333" stroke-width="0.8"/>
<text x="37.7" y="561.64" font-size="6.3" text-anchor="end" font-style="italic">IDH1</text>
<line x1="39.2" y1="566.06" x2="41.9" y2="566.06" stroke="#333" stroke-width="0.8"/>
<text x="37.7" y="568.26" font-size="6.3" text-anchor="end" font-style="italic">FLT3<tspan font-size="3.4" dy="-2">ITD</tspan></text>
<line x1="39.2" y1="572.68" x2="41.9" y2="572.68" stroke="#333" stroke-width="0.8"/>
<text x="37.7" y="574.88" font-size="6.3" text-anchor="end" font-style="italic">DNMT3A</text>
<line x1="39.2" y1="579.3" x2="41.9" y2="579.3" stroke="#333" stroke-width="0.8"/>
<text x="37.7" y="581.5" font-size="6.3" text-anchor="end" font-style="italic">CEBPA</text>
<line x1="39.2" y1="585.92" x2="41.9" y2="585.92" stroke="#333" stroke-width="0.8"/>
<text x="37.7" y="588.12" font-size="6.3" text-anchor="end" font-style="italic">CALR</text>
<line x1="39.2" y1="592.54" x2="41.9" y2="592.54" stroke="#333" stroke-width="0.8"/>
<text x="37.7" y="594.74" font-size="6.3" text-anchor="end" font-style="italic">BCOR/L1</text>
<line x1="39.2" y1="599.16" x2="41.9" y2="599.16" stroke="#333" stroke-width="0.8"/>
<text x="37.7" y="601.36" font-size="6.3" text-anchor="end" font-style="italic">ASXL1</text>
<line x1="81.5" y1="480" x2="90.8" y2="480" stroke="#333" stroke-width="0.8"/>
<line x1="81.5" y1="479" x2="81.5" y2="481" stroke="#333" stroke-width="0.8"/>
<line x1="90.8" y1="479" x2="90.8" y2="481" stroke="#333" stroke-width="0.8"/>
<line x1="85.6" y1="486.62" x2="90.4" y2="486.62" stroke="#333" stroke-width="0.8"/>
<line x1="85.6" y1="485.62" x2="85.6" y2="487.62" stroke="#333" stroke-width="0.8"/>
<line x1="90.4" y1="485.62" x2="90.4" y2="487.62" stroke="#333" stroke-width="0.8"/>
<line x1="84.6" y1="493.24" x2="90.4" y2="493.24" stroke="#333" stroke-width="0.8"/>
<line x1="84.6" y1="492.24" x2="84.6" y2="494.24" stroke="#333" stroke-width="0.8"/>
<line x1="90.4" y1="492.24" x2="90.4" y2="494.24" stroke="#333" stroke-width="0.8"/>
<line x1="84.6" y1="499.86" x2="94.6" y2="499.86" stroke="#333" stroke-width="0.8"/>
<line x1="84.6" y1="498.86" x2="84.6" y2="500.86" stroke="#333" stroke-width="0.8"/>
<line x1="94.6" y1="498.86" x2="94.6" y2="500.86" stroke="#333" stroke-width="0.8"/>
<line x1="84.4" y1="506.48" x2="96.9" y2="506.48" stroke="#333" stroke-width="0.8"/>
<line x1="84.4" y1="505.48" x2="84.4" y2="507.48" stroke="#333" stroke-width="0.8"/>
<line x1="96.9" y1="505.48" x2="96.9" y2="507.48" stroke="#333" stroke-width="0.8"/>
<line x1="78.3" y1="513.1" x2="108.7" y2="513.1" stroke="#333" stroke-width="0.8"/>
<line x1="78.3" y1="512.1" x2="78.3" y2="514.1" stroke="#333" stroke-width="0.8"/>
<line x1="108.7" y1="512.1" x2="108.7" y2="514.1" stroke="#333" stroke-width="0.8"/>
<line x1="87.5" y1="519.72" x2="95.2" y2="519.72" stroke="#333" stroke-width="0.8"/>
<line x1="87.5" y1="518.72" x2="87.5" y2="520.72" stroke="#333" stroke-width="0.8"/>
<line x1="95.2" y1="518.72" x2="95.2" y2="520.72" stroke="#333" stroke-width="0.8"/>
<line x1="96.5" y1="526.34" x2="138.8" y2="526.34" stroke="#333" stroke-width="0.8"/>
<line x1="96.5" y1="525.34" x2="96.5" y2="527.34" stroke="#333" stroke-width="0.8"/>
<line x1="138.8" y1="525.34" x2="138.8" y2="527.34" stroke="#333" stroke-width="0.8"/>
<line x1="90.8" y1="532.96" x2="104.8" y2="532.96" stroke="#333" stroke-width="0.8"/>
<line x1="90.8" y1="531.96" x2="90.8" y2="533.96" stroke="#333" stroke-width="0.8"/>
<line x1="104.8" y1="531.96" x2="104.8" y2="533.96" stroke="#333" stroke-width="0.8"/>
<line x1="96.9" y1="539.58" x2="139.2" y2="539.58" stroke="#333" stroke-width="0.8"/>
<line x1="96.9" y1="538.58" x2="96.9" y2="540.58" stroke="#333" stroke-width="0.8"/>
<line x1="139.2" y1="538.58" x2="139.2" y2="540.58" stroke="#333" stroke-width="0.8"/>
<line x1="79.4" y1="546.2" x2="90.8" y2="546.2" stroke="#333" stroke-width="0.8"/>
<line x1="79.4" y1="545.2" x2="79.4" y2="547.2" stroke="#333" stroke-width="0.8"/>
<line x1="90.8" y1="545.2" x2="90.8" y2="547.2" stroke="#333" stroke-width="0.8"/>
<line x1="94.5" y1="552.82" x2="102.5" y2="552.82" stroke="#333" stroke-width="0.8"/>
<line x1="94.5" y1="551.82" x2="94.5" y2="553.82" stroke="#333" stroke-width="0.8"/>
<line x1="102.5" y1="551.82" x2="102.5" y2="553.82" stroke="#333" stroke-width="0.8"/>
<line x1="94.5" y1="559.44" x2="106.2" y2="559.44" stroke="#333" stroke-width="0.8"/>
<line x1="94.5" y1="558.44" x2="94.5" y2="560.44" stroke="#333" stroke-width="0.8"/>
<line x1="106.2" y1="558.44" x2="106.2" y2="560.44" stroke="#333" stroke-width="0.8"/>
<line x1="95.4" y1="566.06" x2="106.2" y2="566.06" stroke="#333" stroke-width="0.8"/>
<line x1="95.4" y1="565.06" x2="95.4" y2="567.06" stroke="#333" stroke-width="0.8"/>
<line x1="106.2" y1="565.06" x2="106.2" y2="567.06" stroke="#333" stroke-width="0.8"/>
<line x1="97.5" y1="572.68" x2="102.5" y2="572.68" stroke="#333" stroke-width="0.8"/>
<line x1="97.5" y1="571.68" x2="97.5" y2="573.68" stroke="#333" stroke-width="0.8"/>
<line x1="102.5" y1="571.68" x2="102.5" y2="573.68" stroke="#333" stroke-width="0.8"/>
<line x1="98.5" y1="579.3" x2="120" y2="579.3" stroke="#333" stroke-width="0.8"/>
<line x1="98.5" y1="578.3" x2="98.5" y2="580.3" stroke="#333" stroke-width="0.8"/>
<line x1="120" y1="578.3" x2="120" y2="580.3" stroke="#333" stroke-width="0.8"/>
<line x1="44.6" y1="585.92" x2="89.2" y2="585.92" stroke="#333" stroke-width="0.8"/>
<line x1="44.6" y1="584.92" x2="44.6" y2="586.92" stroke="#333" stroke-width="0.8"/>
<line x1="89.2" y1="584.92" x2="89.2" y2="586.92" stroke="#333" stroke-width="0.8"/>
<line x1="82.5" y1="592.54" x2="91.7" y2="592.54" stroke="#333" stroke-width="0.8"/>
<line x1="82.5" y1="591.54" x2="82.5" y2="593.54" stroke="#333" stroke-width="0.8"/>
<line x1="91.7" y1="591.54" x2="91.7" y2="593.54" stroke="#333" stroke-width="0.8"/>
<line x1="84" y1="599.16" x2="96" y2="599.16" stroke="#333" stroke-width="0.8"/>
<line x1="84" y1="598.16" x2="84" y2="600.16" stroke="#333" stroke-width="0.8"/>
<line x1="96" y1="598.16" x2="96" y2="600.16" stroke="#333" stroke-width="0.8"/>
<rect x="91.1" y="478.8" width="3" height="124.2" fill="#fff"/>
<line x1="92.6" y1="478.8" x2="92.6" y2="601.8" stroke="#c4c4c4" stroke-width="1.3"/>
<circle cx="86" cy="480" r="1.55" fill="#15538f"/>
<circle cx="87.5" cy="486.62" r="1.55" fill="#15538f"/>
<circle cx="87.3" cy="493.24" r="1.55" fill="#15538f"/>
<circle cx="88.1" cy="499.86" r="1.55" fill="#15538f"/>
<circle cx="88.8" cy="506.48" r="1.55" fill="#15538f"/>
<circle cx="90.4" cy="513.1" r="1.55" fill="#15538f"/>
<circle cx="89.8" cy="519.72" r="1.55" fill="#15538f"/>
<circle cx="109" cy="526.34" r="1.55" fill="#15538f"/>
<circle cx="98.8" cy="532.96" r="1.55" fill="#15538f"/>
<circle cx="109.4" cy="539.58" r="1.55" fill="#15538f"/>
<circle cx="84.6" cy="546.2" r="1.55" fill="#15538f"/>
<circle cx="97.8" cy="552.82" r="1.55" fill="#15538f"/>
<circle cx="99.4" cy="559.44" r="1.55" fill="#15538f"/>
<circle cx="99.4" cy="566.06" r="1.55" fill="#15538f"/>
<circle cx="100" cy="572.68" r="1.55" fill="#c8203a"/>
<circle cx="106.8" cy="579.3" r="1.55" fill="#15538f"/>
<circle cx="73.8" cy="585.92" r="1.55" fill="#15538f"/>
<circle cx="86.2" cy="592.54" r="1.55" fill="#15538f"/>
<circle cx="88.3" cy="599.16" r="1.55" fill="#3cb54a"/>
<line x1="194" y1="480" x2="200.8" y2="480" stroke="#333" stroke-width="0.8"/>
<line x1="194" y1="479" x2="194" y2="481" stroke="#333" stroke-width="0.8"/>
<line x1="200.8" y1="479" x2="200.8" y2="481" stroke="#333" stroke-width="0.8"/>
<line x1="198.5" y1="486.62" x2="211.3" y2="486.62" stroke="#333" stroke-width="0.8"/>
<line x1="198.5" y1="485.62" x2="198.5" y2="487.62" stroke="#333" stroke-width="0.8"/>
<line x1="211.3" y1="485.62" x2="211.3" y2="487.62" stroke="#333" stroke-width="0.8"/>
<line x1="195.6" y1="493.24" x2="206" y2="493.24" stroke="#333" stroke-width="0.8"/>
<line x1="195.6" y1="492.24" x2="195.6" y2="494.24" stroke="#333" stroke-width="0.8"/>
<line x1="206" y1="492.24" x2="206" y2="494.24" stroke="#333" stroke-width="0.8"/>
<line x1="197.5" y1="499.86" x2="201.2" y2="499.86" stroke="#333" stroke-width="0.8"/>
<line x1="197.5" y1="498.86" x2="197.5" y2="500.86" stroke="#333" stroke-width="0.8"/>
<line x1="201.2" y1="498.86" x2="201.2" y2="500.86" stroke="#333" stroke-width="0.8"/>
<line x1="191.5" y1="506.48" x2="199.8" y2="506.48" stroke="#333" stroke-width="0.8"/>
<line x1="191.5" y1="505.48" x2="191.5" y2="507.48" stroke="#333" stroke-width="0.8"/>
<line x1="199.8" y1="505.48" x2="199.8" y2="507.48" stroke="#333" stroke-width="0.8"/>
<line x1="184.4" y1="513.1" x2="201.3" y2="513.1" stroke="#333" stroke-width="0.8"/>
<line x1="184.4" y1="512.1" x2="184.4" y2="514.1" stroke="#333" stroke-width="0.8"/>
<line x1="201.3" y1="512.1" x2="201.3" y2="514.1" stroke="#333" stroke-width="0.8"/>
<line x1="196.9" y1="519.72" x2="200.8" y2="519.72" stroke="#333" stroke-width="0.8"/>
<line x1="196.9" y1="518.72" x2="196.9" y2="520.72" stroke="#333" stroke-width="0.8"/>
<line x1="200.8" y1="518.72" x2="200.8" y2="520.72" stroke="#333" stroke-width="0.8"/>
<line x1="201.3" y1="526.34" x2="210.4" y2="526.34" stroke="#333" stroke-width="0.8"/>
<line x1="201.3" y1="525.34" x2="201.3" y2="527.34" stroke="#333" stroke-width="0.8"/>
<line x1="210.4" y1="525.34" x2="210.4" y2="527.34" stroke="#333" stroke-width="0.8"/>
<line x1="215.6" y1="532.96" x2="220.6" y2="532.96" stroke="#333" stroke-width="0.8"/>
<line x1="215.6" y1="531.96" x2="215.6" y2="533.96" stroke="#333" stroke-width="0.8"/>
<line x1="220.6" y1="531.96" x2="220.6" y2="533.96" stroke="#333" stroke-width="0.8"/>
<line x1="201.5" y1="539.58" x2="212.2" y2="539.58" stroke="#333" stroke-width="0.8"/>
<line x1="201.5" y1="538.58" x2="201.5" y2="540.58" stroke="#333" stroke-width="0.8"/>
<line x1="212.2" y1="538.58" x2="212.2" y2="540.58" stroke="#333" stroke-width="0.8"/>
<line x1="192" y1="546.2" x2="200.5" y2="546.2" stroke="#333" stroke-width="0.8"/>
<line x1="192" y1="545.2" x2="192" y2="547.2" stroke="#333" stroke-width="0.8"/>
<line x1="200.5" y1="545.2" x2="200.5" y2="547.2" stroke="#333" stroke-width="0.8"/>
<line x1="200" y1="552.82" x2="207.5" y2="552.82" stroke="#333" stroke-width="0.8"/>
<line x1="200" y1="551.82" x2="200" y2="553.82" stroke="#333" stroke-width="0.8"/>
<line x1="207.5" y1="551.82" x2="207.5" y2="553.82" stroke="#333" stroke-width="0.8"/>
<line x1="200.5" y1="559.44" x2="208.8" y2="559.44" stroke="#333" stroke-width="0.8"/>
<line x1="200.5" y1="558.44" x2="200.5" y2="560.44" stroke="#333" stroke-width="0.8"/>
<line x1="208.8" y1="558.44" x2="208.8" y2="560.44" stroke="#333" stroke-width="0.8"/>
<line x1="210.5" y1="566.06" x2="215.5" y2="566.06" stroke="#333" stroke-width="0.8"/>
<line x1="210.5" y1="565.06" x2="210.5" y2="567.06" stroke="#333" stroke-width="0.8"/>
<line x1="215.5" y1="565.06" x2="215.5" y2="567.06" stroke="#333" stroke-width="0.8"/>
<line x1="207.5" y1="572.68" x2="213.8" y2="572.68" stroke="#333" stroke-width="0.8"/>
<line x1="207.5" y1="571.68" x2="207.5" y2="573.68" stroke="#333" stroke-width="0.8"/>
<line x1="213.8" y1="571.68" x2="213.8" y2="573.68" stroke="#333" stroke-width="0.8"/>
<line x1="207.5" y1="579.3" x2="216.8" y2="579.3" stroke="#333" stroke-width="0.8"/>
<line x1="207.5" y1="578.3" x2="207.5" y2="580.3" stroke="#333" stroke-width="0.8"/>
<line x1="216.8" y1="578.3" x2="216.8" y2="580.3" stroke="#333" stroke-width="0.8"/>
<line x1="192" y1="585.92" x2="241.8" y2="585.92" stroke="#333" stroke-width="0.8"/>
<line x1="192" y1="584.92" x2="192" y2="586.92" stroke="#333" stroke-width="0.8"/>
<line x1="241.8" y1="584.92" x2="241.8" y2="586.92" stroke="#333" stroke-width="0.8"/>
<line x1="198" y1="592.54" x2="208.3" y2="592.54" stroke="#333" stroke-width="0.8"/>
<line x1="198" y1="591.54" x2="198" y2="593.54" stroke="#333" stroke-width="0.8"/>
<line x1="208.3" y1="591.54" x2="208.3" y2="593.54" stroke="#333" stroke-width="0.8"/>
<line x1="194.5" y1="599.16" x2="199.3" y2="599.16" stroke="#333" stroke-width="0.8"/>
<line x1="194.5" y1="598.16" x2="194.5" y2="600.16" stroke="#333" stroke-width="0.8"/>
<line x1="199.3" y1="598.16" x2="199.3" y2="600.16" stroke="#333" stroke-width="0.8"/>
<rect x="202.6" y="478.8" width="3" height="124.2" fill="#fff"/>
<line x1="204.1" y1="478.8" x2="204.1" y2="601.8" stroke="#c4c4c4" stroke-width="1.3"/>
<circle cx="197.3" cy="480" r="1.55" fill="#15538f"/>
<circle cx="206" cy="486.62" r="1.55" fill="#3cb54a"/>
<circle cx="198.8" cy="493.24" r="1.55" fill="#3cb54a"/>
<circle cx="199.2" cy="499.86" r="1.55" fill="#15538f"/>
<circle cx="195.6" cy="506.48" r="1.55" fill="#15538f"/>
<circle cx="193.5" cy="513.1" r="1.55" fill="#15538f"/>
<circle cx="198.8" cy="519.72" r="1.55" fill="#c8203a"/>
<circle cx="207.5" cy="526.34" r="1.55" fill="#3cb54a"/>
<circle cx="218.2" cy="532.96" r="1.55" fill="#c8203a"/>
<circle cx="207.7" cy="539.58" r="1.55" fill="#3cb54a"/>
<circle cx="196.3" cy="546.2" r="1.55" fill="#15538f"/>
<circle cx="202.5" cy="552.82" r="1.55" fill="#3cb54a"/>
<circle cx="205.5" cy="559.44" r="1.55" fill="#3cb54a"/>
<circle cx="212.5" cy="566.06" r="1.55" fill="#c8203a"/>
<circle cx="210.5" cy="572.68" r="1.55" fill="#15538f"/>
<circle cx="211.8" cy="579.3" r="1.55" fill="#15538f"/>
<circle cx="210.8" cy="585.92" r="1.55" fill="#3cb54a"/>
<circle cx="201.8" cy="592.54" r="1.55" fill="#3cb54a"/>
<circle cx="197" cy="599.16" r="1.55" fill="#c8203a"/>
<line x1="41.9" y1="475.2" x2="41.9" y2="604.3" stroke="#333" stroke-width="1.3"/>
<line x1="41.9" y1="603.9" x2="91.3" y2="603.9" stroke="#333" stroke-width="1.4"/>
<line x1="93.7" y1="603.9" x2="143" y2="603.9" stroke="#333" stroke-width="1.4"/>
<path d="M89.8,603.9 l1.5,-1.1 v2.2 z M95.2,603.9 l-1.5,-1.1 v2.2 z" fill="#333"/>
<line x1="41.8" y1="603.9" x2="41.8" y2="605.9" stroke="#333" stroke-width="0.8"/>
<text x="41.8" y="613" font-size="6.1" text-anchor="middle">-8</text>
<line x1="54.3" y1="603.9" x2="54.3" y2="605.9" stroke="#333" stroke-width="0.8"/>
<text x="54.3" y="613" font-size="6.1" text-anchor="middle">-6</text>
<line x1="66.8" y1="603.9" x2="66.8" y2="605.9" stroke="#333" stroke-width="0.8"/>
<text x="66.8" y="613" font-size="6.1" text-anchor="middle">-4</text>
<line x1="79.3" y1="603.9" x2="79.3" y2="605.9" stroke="#333" stroke-width="0.8"/>
<text x="79.3" y="613" font-size="6.1" text-anchor="middle">-2</text>
<text x="93.8" y="613" font-size="6.1" text-anchor="middle">0</text>
<line x1="105.5" y1="603.9" x2="105.5" y2="605.9" stroke="#333" stroke-width="0.8"/>
<text x="105.5" y="613" font-size="6.1" text-anchor="middle">2</text>
<line x1="118" y1="603.9" x2="118" y2="605.9" stroke="#333" stroke-width="0.8"/>
<text x="118" y="613" font-size="6.1" text-anchor="middle">4</text>
<line x1="130.5" y1="603.9" x2="130.5" y2="605.9" stroke="#333" stroke-width="0.8"/>
<text x="130.5" y="613" font-size="6.1" text-anchor="middle">6</text>
<line x1="143" y1="603.9" x2="143" y2="605.9" stroke="#333" stroke-width="0.8"/>
<text x="143" y="613" font-size="6.1" text-anchor="middle">8</text>
<line x1="143" y1="602.6" x2="143" y2="605.2" stroke="#333" stroke-width="0.8"/>
<line x1="41.5" y1="615.2" x2="90.5" y2="615.2" stroke="#86aed4" stroke-width="1.3"/>
<circle cx="41.5" cy="615.2" r="0.9" fill="#15538f"/>
<circle cx="90.5" cy="615.2" r="0.9" fill="#15538f"/>
<line x1="93.8" y1="615.2" x2="143" y2="615.2" stroke="#e57d8c" stroke-width="1.3"/>
<circle cx="93.8" cy="615.2" r="0.9" fill="#c8203a"/>
<circle cx="143" cy="615.2" r="0.9" fill="#c8203a"/>
<text x="66" y="621.8" font-size="6.4" text-anchor="middle" textLength="16.6" lengthAdjust="spacingAndGlyphs">sAML</text>
<text x="117" y="621.8" font-size="6.4" text-anchor="middle" textLength="17" lengthAdjust="spacingAndGlyphs">pAML</text>
<line x1="153.3" y1="603.9" x2="203" y2="603.9" stroke="#333" stroke-width="1.4"/>
<line x1="205.2" y1="603.9" x2="255" y2="603.9" stroke="#333" stroke-width="1.4"/>
<path d="M201.5,603.9 l1.5,-1.1 v2.2 z M206.7,603.9 l-1.5,-1.1 v2.2 z" fill="#333"/>
<line x1="153.8" y1="603.9" x2="153.8" y2="605.9" stroke="#333" stroke-width="0.8"/>
<text x="153.8" y="613" font-size="6.1" text-anchor="middle">-8</text>
<line x1="165.8" y1="603.9" x2="165.8" y2="605.9" stroke="#333" stroke-width="0.8"/>
<text x="165.8" y="613" font-size="6.1" text-anchor="middle">-6</text>
<line x1="177.5" y1="603.9" x2="177.5" y2="605.9" stroke="#333" stroke-width="0.8"/>
<text x="177.5" y="613" font-size="6.1" text-anchor="middle">-4</text>
<line x1="190" y1="603.9" x2="190" y2="605.9" stroke="#333" stroke-width="0.8"/>
<text x="190" y="613" font-size="6.1" text-anchor="middle">-2</text>
<text x="205" y="613" font-size="6.1" text-anchor="middle">0</text>
<line x1="217.5" y1="603.9" x2="217.5" y2="605.9" stroke="#333" stroke-width="0.8"/>
<text x="217.5" y="613" font-size="6.1" text-anchor="middle">2</text>
<line x1="230" y1="603.9" x2="230" y2="605.9" stroke="#333" stroke-width="0.8"/>
<text x="230" y="613" font-size="6.1" text-anchor="middle">4</text>
<line x1="242.5" y1="603.9" x2="242.5" y2="605.9" stroke="#333" stroke-width="0.8"/>
<text x="242.5" y="613" font-size="6.1" text-anchor="middle">6</text>
<line x1="255" y1="603.9" x2="255" y2="605.9" stroke="#333" stroke-width="0.8"/>
<text x="255" y="613" font-size="6.1" text-anchor="middle">8</text>
<line x1="255" y1="602.6" x2="255" y2="605.2" stroke="#333" stroke-width="0.8"/>
<line x1="154.5" y1="615.2" x2="203" y2="615.2" stroke="#86aed4" stroke-width="1.3"/>
<circle cx="154.5" cy="615.2" r="0.9" fill="#15538f"/>
<circle cx="203" cy="615.2" r="0.9" fill="#15538f"/>
<line x1="206.5" y1="615.2" x2="255.5" y2="615.2" stroke="#e57d8c" stroke-width="1.3"/>
<circle cx="206.5" cy="615.2" r="0.9" fill="#c8203a"/>
<circle cx="255.5" cy="615.2" r="0.9" fill="#c8203a"/>
<text x="179.3" y="621.8" font-size="6.4" text-anchor="middle" textLength="16.6" lengthAdjust="spacingAndGlyphs">sAML</text>
<text x="231.3" y="621.8" font-size="6.4" text-anchor="middle" textLength="17" lengthAdjust="spacingAndGlyphs">pAML</text>
<text x="261" y="594.5" font-size="7" textLength="21.5" lengthAdjust="spacingAndGlyphs" transform="rotate(90 261 594.5)">Log OR</text>
<circle cx="231.9" cy="482.5" r="1.4" fill="#c8203a"/>
<circle cx="231.9" cy="487.7" r="1.4" fill="#15538f"/>
<circle cx="231.9" cy="493" r="1.4" fill="#3cb54a"/>
<text x="236.9" y="484.2" font-size="4.6" textLength="17.7" lengthAdjust="spacingAndGlyphs">P&lt;0.0001</text>
<text x="236.9" y="489.4" font-size="4.6" textLength="13.5" lengthAdjust="spacingAndGlyphs">P&lt;0.05</text>
<text x="238.8" y="494.7" font-size="4.6" textLength="10" lengthAdjust="spacingAndGlyphs">P, ns</text>
<text x="264.9" y="472.6" font-size="12" font-weight="bold" fill="#000">H</text>
<path d="M301,585.05h3.55v18.35h-3.55zM311.65,585.05h3.55v18.35h-3.55zM322.3,585.05h3.55v18.35h-3.55zM340.05,566.7h3.55v36.7h-3.55zM354.25,585.05h3.55v18.35h-3.55zM357.8,566.7h3.55v36.7h-3.55zM361.35,585.05h3.55v18.35h-3.55zM364.9,566.7h3.55v36.7h-3.55zM368.45,585.05h3.55v18.35h-3.55zM379.1,566.7h3.55v36.7h-3.55zM382.65,566.7h3.55v36.7h-3.55zM386.2,585.05h3.55v18.35h-3.55zM393.3,548.35h3.55v55.05h-3.55zM396.85,585.05h3.55v18.35h-3.55zM400.4,585.05h3.55v18.35h-3.55zM403.95,548.35h3.55v55.05h-3.55zM407.5,585.05h3.55v18.35h-3.55zM411.05,548.35h3.55v55.05h-3.55zM414.6,493.3h3.55v110.1h-3.55zM418.15,548.35h3.55v55.05h-3.55zM421.7,548.35h3.55v55.05h-3.55zM425.25,566.7h3.55v36.7h-3.55zM428.8,493.3h3.55v110.1h-3.55zM432.35,548.35h3.55v55.05h-3.55zM439.45,548.35h3.55v55.05h-3.55zM443,566.7h3.55v36.7h-3.55zM446.55,511.65h3.55v91.75h-3.55zM450.1,511.65h3.55v91.75h-3.55zM453.65,530h3.55v73.4h-3.55zM457.2,548.35h3.55v55.05h-3.55zM460.75,474.95h3.55v128.45h-3.55zM464.3,511.65h3.55v91.75h-3.55zM467.85,585.05h3.55v18.35h-3.55zM471.4,585.05h3.55v18.35h-3.55zM474.95,585.05h3.55v18.35h-3.55zM482.05,530h3.55v73.4h-3.55zM485.6,566.7h3.55v36.7h-3.55zM489.15,566.7h3.55v36.7h-3.55zM496.25,585.05h3.55v18.35h-3.55zM503.35,585.05h3.55v18.35h-3.55zM506.9,566.7h3.55v36.7h-3.55z" fill="#c8203a"/>
<line x1="301" y1="603.4" x2="510.45" y2="603.4" stroke="#7a1020" stroke-width="0.6"/>
<line x1="462.7" y1="475" x2="462.7" y2="606" stroke="#111" stroke-width="1" stroke-dasharray="1,1"/>
<line x1="292.8" y1="474.7" x2="292.8" y2="603.4" stroke="#333" stroke-width="0.9"/>
<line x1="290.6" y1="603.4" x2="292.8" y2="603.4" stroke="#333" stroke-width="0.8"/>
<text x="287" y="603.4" font-size="6.8" text-anchor="middle" textLength="3.21" lengthAdjust="spacingAndGlyphs" transform="rotate(-90 287 603.4)">0</text>
<line x1="290.6" y1="585.05" x2="292.8" y2="585.05" stroke="#333" stroke-width="0.8"/>
<text x="287" y="585.05" font-size="6.8" text-anchor="middle" textLength="3.21" lengthAdjust="spacingAndGlyphs" transform="rotate(-90 287 585.05)">1</text>
<line x1="290.6" y1="566.7" x2="292.8" y2="566.7" stroke="#333" stroke-width="0.8"/>
<text x="287" y="566.7" font-size="6.8" text-anchor="middle" textLength="3.21" lengthAdjust="spacingAndGlyphs" transform="rotate(-90 287 566.7)">2</text>
<line x1="290.6" y1="548.35" x2="292.8" y2="548.35" stroke="#333" stroke-width="0.8"/>
<text x="287" y="548.35" font-size="6.8" text-anchor="middle" textLength="3.21" lengthAdjust="spacingAndGlyphs" transform="rotate(-90 287 548.35)">3</text>
<line x1="290.6" y1="530" x2="292.8" y2="530" stroke="#333" stroke-width="0.8"/>
<text x="287" y="530" font-size="6.8" text-anchor="middle" textLength="3.21" lengthAdjust="spacingAndGlyphs" transform="rotate(-90 287 530)">4</text>
<line x1="290.6" y1="511.65" x2="292.8" y2="511.65" stroke="#333" stroke-width="0.8"/>
<text x="287" y="511.65" font-size="6.8" text-anchor="middle" textLength="3.21" lengthAdjust="spacingAndGlyphs" transform="rotate(-90 287 511.65)">5</text>
<line x1="290.6" y1="493.3" x2="292.8" y2="493.3" stroke="#333" stroke-width="0.8"/>
<text x="287" y="493.3" font-size="6.8" text-anchor="middle" textLength="3.21" lengthAdjust="spacingAndGlyphs" transform="rotate(-90 287 493.3)">6</text>
<line x1="290.6" y1="474.95" x2="292.8" y2="474.95" stroke="#333" stroke-width="0.8"/>
<text x="287" y="474.95" font-size="6.8" text-anchor="middle" textLength="3.21" lengthAdjust="spacingAndGlyphs" transform="rotate(-90 287 474.95)">7</text>
<text x="276.9" y="539" font-size="9.4" text-anchor="middle" textLength="30.4" lengthAdjust="spacingAndGlyphs" transform="rotate(-90 276.9 539)">Frequency</text>
<line x1="294.8" y1="608.2" x2="506.6" y2="608.2" stroke="#333" stroke-width="0.9"/>
<line x1="294.8" y1="608.2" x2="294.8" y2="610.2" stroke="#333" stroke-width="0.8"/>
<text x="294.8" y="617.5" font-size="6.8" text-anchor="middle" textLength="12.31" lengthAdjust="spacingAndGlyphs">0.69</text>
<line x1="330.1" y1="608.2" x2="330.1" y2="610.2" stroke="#333" stroke-width="0.8"/>
<text x="330.1" y="617.5" font-size="6.8" text-anchor="middle" textLength="12.31" lengthAdjust="spacingAndGlyphs">0.70</text>
<line x1="365.4" y1="608.2" x2="365.4" y2="610.2" stroke="#333" stroke-width="0.8"/>
<text x="365.4" y="617.5" font-size="6.8" text-anchor="middle" textLength="12.31" lengthAdjust="spacingAndGlyphs">0.71</text>
<line x1="400.7" y1="608.2" x2="400.7" y2="610.2" stroke="#333" stroke-width="0.8"/>
<text x="400.7" y="617.5" font-size="6.8" text-anchor="middle" textLength="12.31" lengthAdjust="spacingAndGlyphs">0.72</text>
<line x1="436" y1="608.2" x2="436" y2="610.2" stroke="#333" stroke-width="0.8"/>
<text x="436" y="617.5" font-size="6.8" text-anchor="middle" textLength="12.31" lengthAdjust="spacingAndGlyphs">0.73</text>
<line x1="471.3" y1="608.2" x2="471.3" y2="610.2" stroke="#333" stroke-width="0.8"/>
<text x="471.3" y="617.5" font-size="6.8" text-anchor="middle" textLength="12.31" lengthAdjust="spacingAndGlyphs">0.74</text>
<line x1="506.6" y1="608.2" x2="506.6" y2="610.2" stroke="#333" stroke-width="0.8"/>
<text x="506.6" y="617.5" font-size="6.8" text-anchor="middle" textLength="12.31" lengthAdjust="spacingAndGlyphs">0.75</text>
<text x="359.3" y="627" font-size="8.6" textLength="81.7" lengthAdjust="spacingAndGlyphs">Area Under the Curve Value</text>
<text x="299.8" y="488" font-size="6.7" textLength="91.8" lengthAdjust="spacingAndGlyphs">Multivariate Logistic Regression</text>
<path d="M0,0.5H520M0.5,0V642" stroke="#141010" stroke-width="1.05" fill="none"/><path d="M519.35,0V642M0,641.3H520" stroke="#141010" stroke-width="1.4" fill="none"/>
</svg>
</body></html>
